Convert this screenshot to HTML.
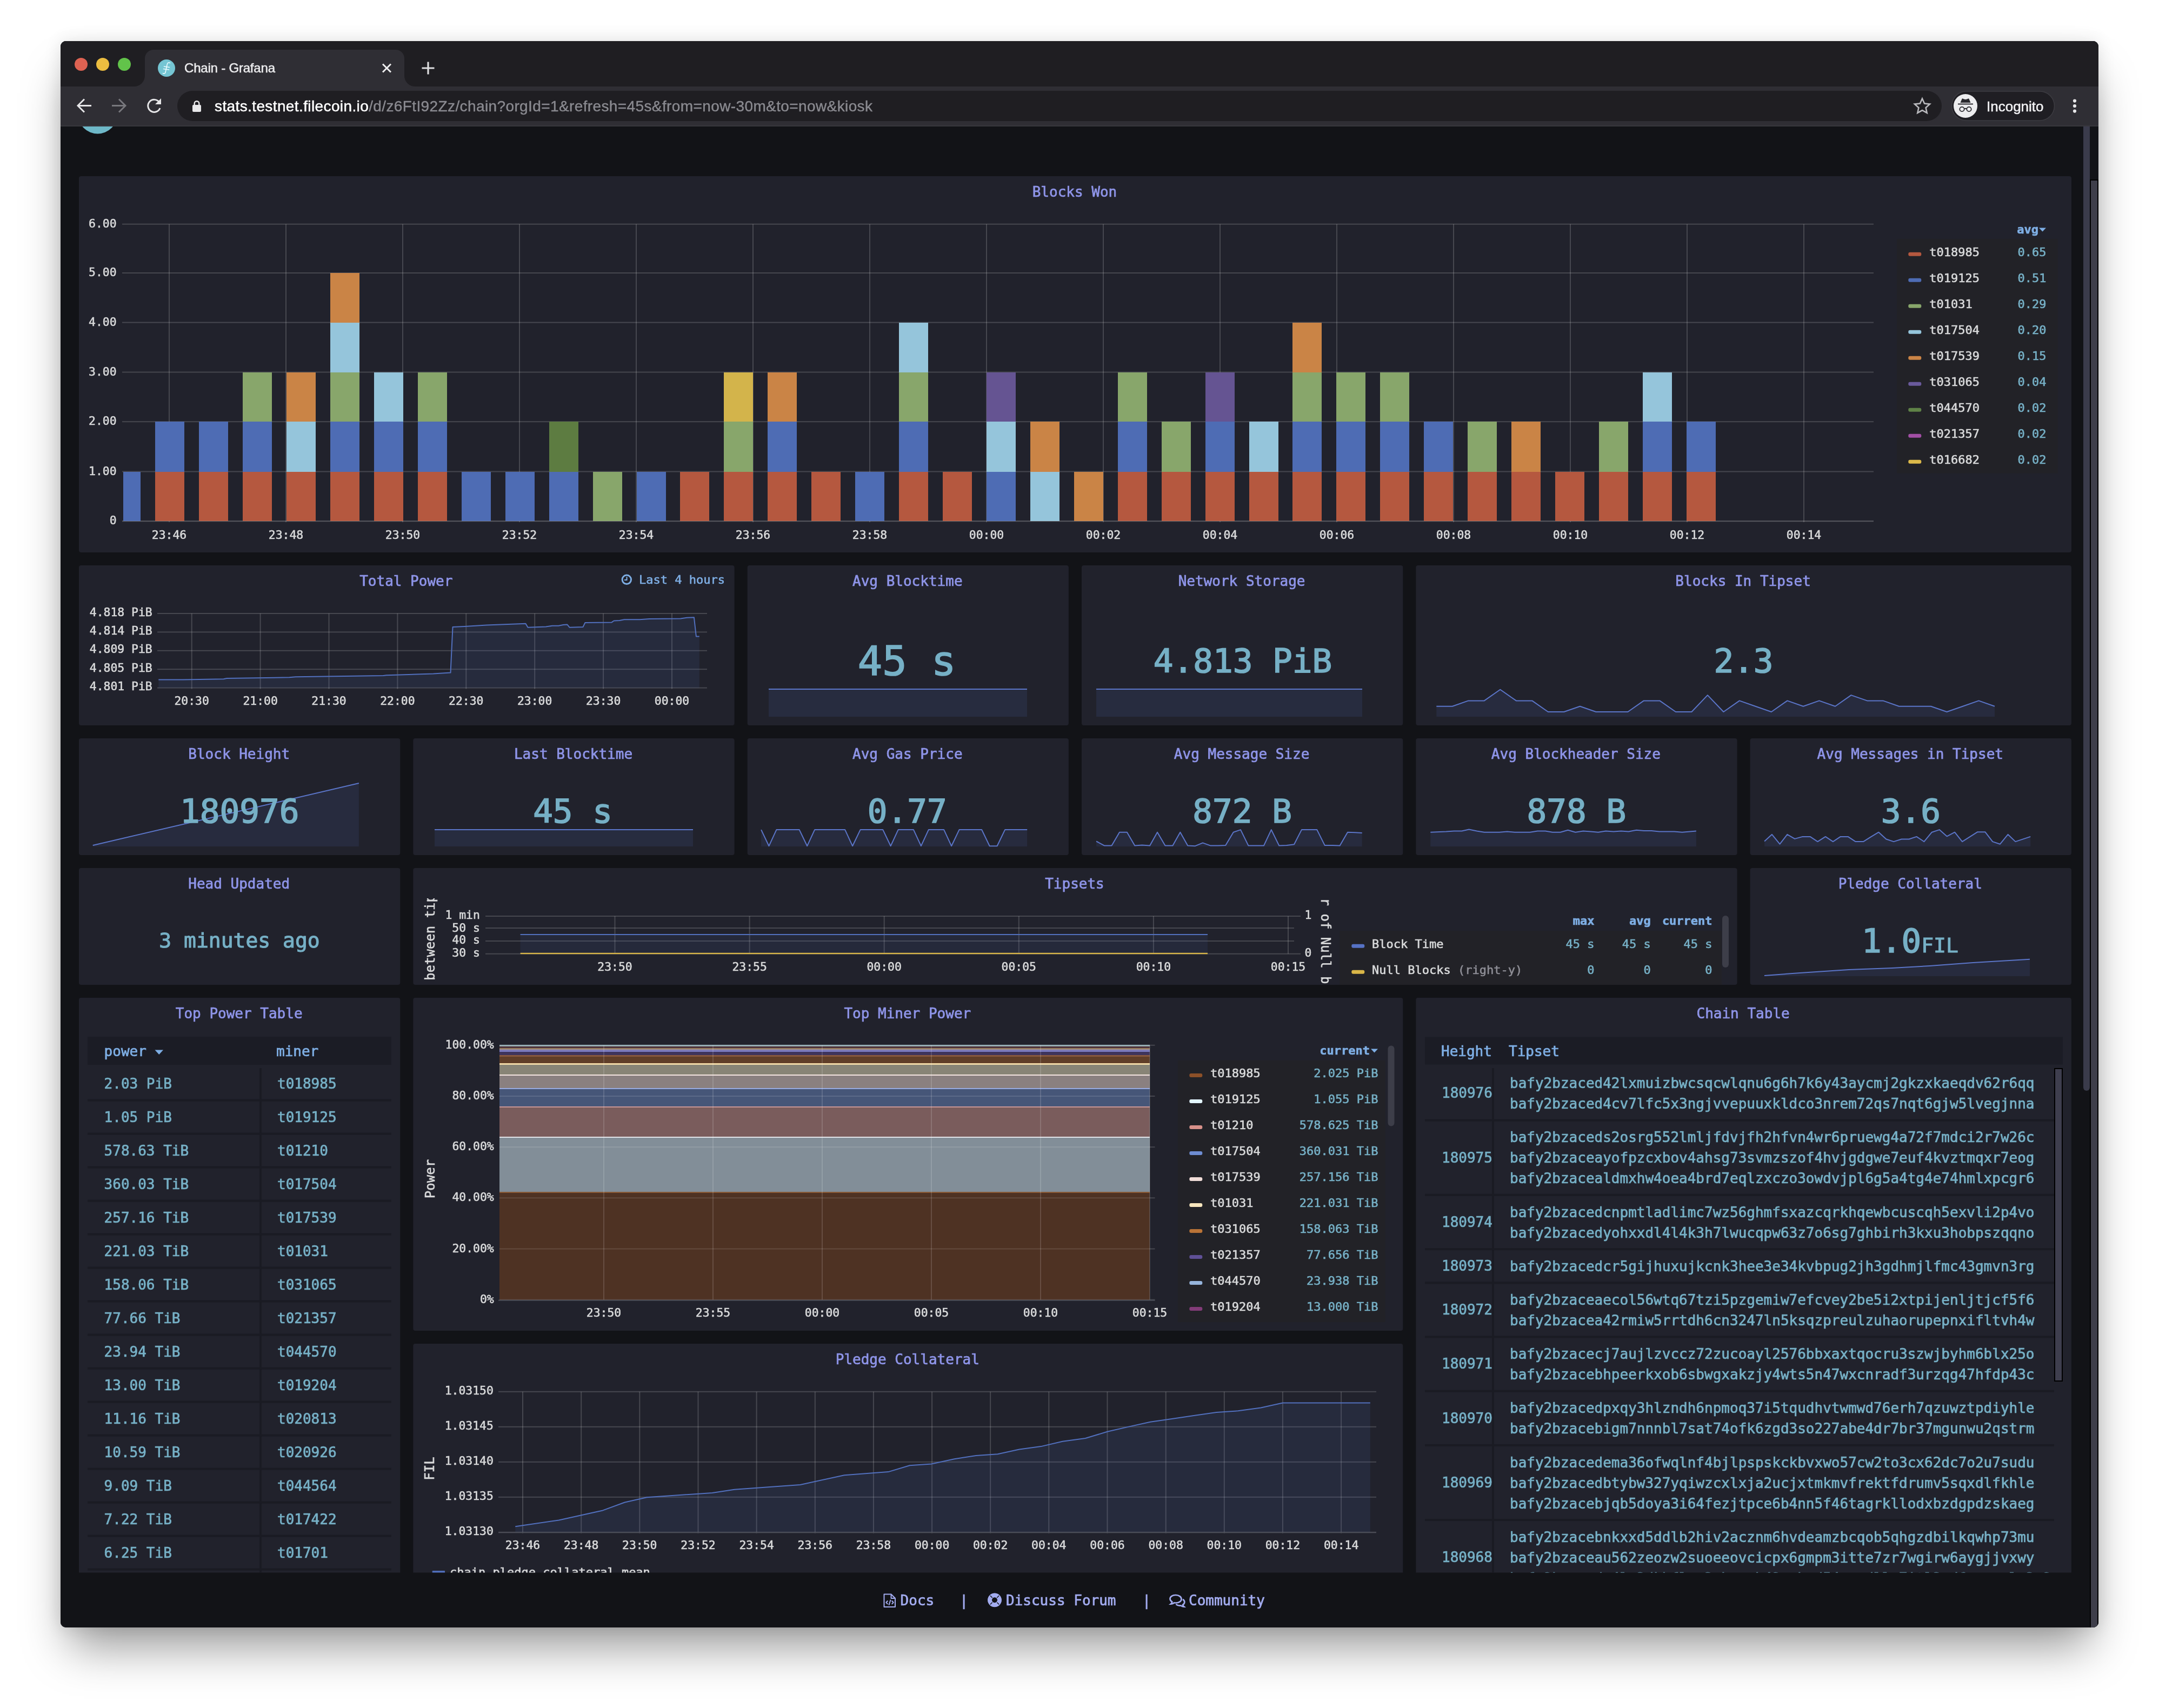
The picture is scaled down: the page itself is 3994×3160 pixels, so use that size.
<!DOCTYPE html><html><head><meta charset="utf-8"><title>Chain - Grafana</title>
<style>html,body{margin:0;padding:0;background:#fff}body{width:3994px;height:3160px;position:relative;overflow:hidden}#sh{position:absolute;left:112px;top:76px;width:3770px;height:2935px;border-radius:10px;background:#121317;box-shadow:0 52px 80px -16px rgba(0,0,0,.4),0 0 32px rgba(0,0,0,.11)}svg{position:absolute;left:0;top:0;will-change:transform}svg text{font-family:'DejaVu Sans Mono','Liberation Mono',monospace;white-space:pre}svg text.s{font-family:'Liberation Sans',sans-serif}</style></head><body>
<div id="sh"></div>
<svg width="3994" height="3160" viewBox="0 0 3994 3160">
<defs><clipPath id="win"><rect x="112" y="76" width="3770" height="2935" rx="10"/></clipPath><clipPath id="dash"><rect x="112" y="233" width="3742" height="2676.5"/></clipPath></defs>
<g clip-path="url(#win)">
<rect x="112.0" y="76.0" width="3770.0" height="2935.0" fill="#121317" />
<g clip-path="url(#dash)">
<circle cx="180.6" cy="211.6" r="36" fill="#6eb8c8"/>
<rect x="146.0" y="326.0" width="3686.0" height="696.0" fill="#21222c" rx="4" />
<text x="1988.0" y="363.7" font-size="26" fill="#8e94e8" stroke="#8e94e8" stroke-width="0.73" text-anchor="middle" >Blocks Won</text>
<rect x="226.0" y="963.2" width="3240.0" height="2" fill="#fff" fill-opacity=".17"/>
<text x="215.6" y="970.2" font-size="21.4" fill="#d8d9da" stroke="#d8d9da" stroke-width="0.60" text-anchor="end" >0</text>
<rect x="226.0" y="871.5" width="3240.0" height="2" fill="#fff" fill-opacity=".17"/>
<text x="215.6" y="878.5" font-size="21.4" fill="#d8d9da" stroke="#d8d9da" stroke-width="0.60" text-anchor="end" >1.00</text>
<rect x="226.0" y="779.2" width="3240.0" height="2" fill="#fff" fill-opacity=".17"/>
<text x="215.6" y="786.2" font-size="21.4" fill="#d8d9da" stroke="#d8d9da" stroke-width="0.60" text-anchor="end" >2.00</text>
<rect x="226.0" y="687.5" width="3240.0" height="2" fill="#fff" fill-opacity=".17"/>
<text x="215.6" y="694.5" font-size="21.4" fill="#d8d9da" stroke="#d8d9da" stroke-width="0.60" text-anchor="end" >3.00</text>
<rect x="226.0" y="595.6" width="3240.0" height="2" fill="#fff" fill-opacity=".17"/>
<text x="215.6" y="602.6" font-size="21.4" fill="#d8d9da" stroke="#d8d9da" stroke-width="0.60" text-anchor="end" >4.00</text>
<rect x="226.0" y="504.0" width="3240.0" height="2" fill="#fff" fill-opacity=".17"/>
<text x="215.6" y="511.0" font-size="21.4" fill="#d8d9da" stroke="#d8d9da" stroke-width="0.60" text-anchor="end" >5.00</text>
<rect x="226.0" y="413.7" width="3240.0" height="2" fill="#fff" fill-opacity=".17"/>
<text x="215.6" y="420.7" font-size="21.4" fill="#d8d9da" stroke="#d8d9da" stroke-width="0.60" text-anchor="end" >6.00</text>
<rect x="312.0" y="414.7" width="2" height="551.5" fill="#fff" fill-opacity=".17"/>
<text x="313.0" y="996.7" font-size="21.4" fill="#d8d9da" stroke="#d8d9da" stroke-width="0.60" text-anchor="middle" >23:46</text>
<rect x="528.0" y="414.7" width="2" height="551.5" fill="#fff" fill-opacity=".17"/>
<text x="529.0" y="996.7" font-size="21.4" fill="#d8d9da" stroke="#d8d9da" stroke-width="0.60" text-anchor="middle" >23:48</text>
<rect x="744.0" y="414.7" width="2" height="551.5" fill="#fff" fill-opacity=".17"/>
<text x="745.0" y="996.7" font-size="21.4" fill="#d8d9da" stroke="#d8d9da" stroke-width="0.60" text-anchor="middle" >23:50</text>
<rect x="960.0" y="414.7" width="2" height="551.5" fill="#fff" fill-opacity=".17"/>
<text x="961.0" y="996.7" font-size="21.4" fill="#d8d9da" stroke="#d8d9da" stroke-width="0.60" text-anchor="middle" >23:52</text>
<rect x="1176.0" y="414.7" width="2" height="551.5" fill="#fff" fill-opacity=".17"/>
<text x="1177.0" y="996.7" font-size="21.4" fill="#d8d9da" stroke="#d8d9da" stroke-width="0.60" text-anchor="middle" >23:54</text>
<rect x="1392.0" y="414.7" width="2" height="551.5" fill="#fff" fill-opacity=".17"/>
<text x="1393.0" y="996.7" font-size="21.4" fill="#d8d9da" stroke="#d8d9da" stroke-width="0.60" text-anchor="middle" >23:56</text>
<rect x="1608.0" y="414.7" width="2" height="551.5" fill="#fff" fill-opacity=".17"/>
<text x="1609.0" y="996.7" font-size="21.4" fill="#d8d9da" stroke="#d8d9da" stroke-width="0.60" text-anchor="middle" >23:58</text>
<rect x="1824.0" y="414.7" width="2" height="551.5" fill="#fff" fill-opacity=".17"/>
<text x="1825.0" y="996.7" font-size="21.4" fill="#d8d9da" stroke="#d8d9da" stroke-width="0.60" text-anchor="middle" >00:00</text>
<rect x="2040.0" y="414.7" width="2" height="551.5" fill="#fff" fill-opacity=".17"/>
<text x="2041.0" y="996.7" font-size="21.4" fill="#d8d9da" stroke="#d8d9da" stroke-width="0.60" text-anchor="middle" >00:02</text>
<rect x="2256.0" y="414.7" width="2" height="551.5" fill="#fff" fill-opacity=".17"/>
<text x="2257.0" y="996.7" font-size="21.4" fill="#d8d9da" stroke="#d8d9da" stroke-width="0.60" text-anchor="middle" >00:04</text>
<rect x="2472.0" y="414.7" width="2" height="551.5" fill="#fff" fill-opacity=".17"/>
<text x="2473.0" y="996.7" font-size="21.4" fill="#d8d9da" stroke="#d8d9da" stroke-width="0.60" text-anchor="middle" >00:06</text>
<rect x="2688.0" y="414.7" width="2" height="551.5" fill="#fff" fill-opacity=".17"/>
<text x="2689.0" y="996.7" font-size="21.4" fill="#d8d9da" stroke="#d8d9da" stroke-width="0.60" text-anchor="middle" >00:08</text>
<rect x="2904.0" y="414.7" width="2" height="551.5" fill="#fff" fill-opacity=".17"/>
<text x="2905.0" y="996.7" font-size="21.4" fill="#d8d9da" stroke="#d8d9da" stroke-width="0.60" text-anchor="middle" >00:10</text>
<rect x="3120.0" y="414.7" width="2" height="551.5" fill="#fff" fill-opacity=".17"/>
<text x="3121.0" y="996.7" font-size="21.4" fill="#d8d9da" stroke="#d8d9da" stroke-width="0.60" text-anchor="middle" >00:12</text>
<rect x="3336.0" y="414.7" width="2" height="551.5" fill="#fff" fill-opacity=".17"/>
<text x="3337.0" y="996.7" font-size="21.4" fill="#d8d9da" stroke="#d8d9da" stroke-width="0.60" text-anchor="middle" >00:14</text>
<g shape-rendering="crispEdges">
<rect x="228.0" y="872.5" width="32.3" height="91.7" fill="#4e6cb4"/>
<rect x="287.2" y="872.5" width="54.0" height="91.7" fill="#b5583f"/>
<rect x="287.2" y="780.2" width="54.0" height="92.3" fill="#4e6cb4"/>
<rect x="368.2" y="872.5" width="54.0" height="91.7" fill="#b5583f"/>
<rect x="368.2" y="780.2" width="54.0" height="92.3" fill="#4e6cb4"/>
<rect x="449.1" y="872.5" width="54.0" height="91.7" fill="#b5583f"/>
<rect x="449.1" y="780.2" width="54.0" height="92.3" fill="#4e6cb4"/>
<rect x="449.1" y="688.5" width="54.0" height="91.7" fill="#88a66b"/>
<rect x="530.0" y="872.5" width="54.0" height="91.7" fill="#b5583f"/>
<rect x="530.0" y="780.2" width="54.0" height="92.3" fill="#95c5db"/>
<rect x="530.0" y="688.5" width="54.0" height="91.7" fill="#ca8446"/>
<rect x="611.0" y="872.5" width="54.0" height="91.7" fill="#b5583f"/>
<rect x="611.0" y="780.2" width="54.0" height="92.3" fill="#4e6cb4"/>
<rect x="611.0" y="688.5" width="54.0" height="91.7" fill="#88a66b"/>
<rect x="611.0" y="596.6" width="54.0" height="91.9" fill="#95c5db"/>
<rect x="611.0" y="505.0" width="54.0" height="91.6" fill="#ca8446"/>
<rect x="691.9" y="872.5" width="54.0" height="91.7" fill="#b5583f"/>
<rect x="691.9" y="780.2" width="54.0" height="92.3" fill="#4e6cb4"/>
<rect x="691.9" y="688.5" width="54.0" height="91.7" fill="#95c5db"/>
<rect x="772.8" y="872.5" width="54.0" height="91.7" fill="#b5583f"/>
<rect x="772.8" y="780.2" width="54.0" height="92.3" fill="#4e6cb4"/>
<rect x="772.8" y="688.5" width="54.0" height="91.7" fill="#88a66b"/>
<rect x="853.7" y="872.5" width="54.0" height="91.7" fill="#4e6cb4"/>
<rect x="934.7" y="872.5" width="54.0" height="91.7" fill="#4e6cb4"/>
<rect x="1015.6" y="872.5" width="54.0" height="91.7" fill="#4e6cb4"/>
<rect x="1015.6" y="780.2" width="54.0" height="92.3" fill="#5d7c41"/>
<rect x="1096.5" y="872.5" width="54.0" height="91.7" fill="#88a66b"/>
<rect x="1177.5" y="872.5" width="54.0" height="91.7" fill="#4e6cb4"/>
<rect x="1258.4" y="872.5" width="54.0" height="91.7" fill="#b5583f"/>
<rect x="1339.3" y="872.5" width="54.0" height="91.7" fill="#b5583f"/>
<rect x="1339.3" y="780.2" width="54.0" height="92.3" fill="#88a66b"/>
<rect x="1339.3" y="688.5" width="54.0" height="91.7" fill="#d3b44b"/>
<rect x="1420.2" y="872.5" width="54.0" height="91.7" fill="#b5583f"/>
<rect x="1420.2" y="780.2" width="54.0" height="92.3" fill="#4e6cb4"/>
<rect x="1420.2" y="688.5" width="54.0" height="91.7" fill="#ca8446"/>
<rect x="1501.2" y="872.5" width="54.0" height="91.7" fill="#b5583f"/>
<rect x="1582.1" y="872.5" width="54.0" height="91.7" fill="#4e6cb4"/>
<rect x="1663.0" y="872.5" width="54.0" height="91.7" fill="#b5583f"/>
<rect x="1663.0" y="780.2" width="54.0" height="92.3" fill="#4e6cb4"/>
<rect x="1663.0" y="688.5" width="54.0" height="91.7" fill="#88a66b"/>
<rect x="1663.0" y="596.6" width="54.0" height="91.9" fill="#95c5db"/>
<rect x="1744.0" y="872.5" width="54.0" height="91.7" fill="#b5583f"/>
<rect x="1824.9" y="872.5" width="54.0" height="91.7" fill="#4e6cb4"/>
<rect x="1824.9" y="780.2" width="54.0" height="92.3" fill="#95c5db"/>
<rect x="1824.9" y="688.5" width="54.0" height="91.7" fill="#655492"/>
<rect x="1905.8" y="872.5" width="54.0" height="91.7" fill="#95c5db"/>
<rect x="1905.8" y="780.2" width="54.0" height="92.3" fill="#ca8446"/>
<rect x="1986.8" y="872.5" width="54.0" height="91.7" fill="#ca8446"/>
<rect x="2067.7" y="872.5" width="54.0" height="91.7" fill="#b5583f"/>
<rect x="2067.7" y="780.2" width="54.0" height="92.3" fill="#4e6cb4"/>
<rect x="2067.7" y="688.5" width="54.0" height="91.7" fill="#88a66b"/>
<rect x="2148.6" y="872.5" width="54.0" height="91.7" fill="#b5583f"/>
<rect x="2148.6" y="780.2" width="54.0" height="92.3" fill="#88a66b"/>
<rect x="2229.6" y="872.5" width="54.0" height="91.7" fill="#b5583f"/>
<rect x="2229.6" y="780.2" width="54.0" height="92.3" fill="#4e6cb4"/>
<rect x="2229.6" y="688.5" width="54.0" height="91.7" fill="#655492"/>
<rect x="2310.5" y="872.5" width="54.0" height="91.7" fill="#b5583f"/>
<rect x="2310.5" y="780.2" width="54.0" height="92.3" fill="#95c5db"/>
<rect x="2391.4" y="872.5" width="54.0" height="91.7" fill="#b5583f"/>
<rect x="2391.4" y="780.2" width="54.0" height="92.3" fill="#4e6cb4"/>
<rect x="2391.4" y="688.5" width="54.0" height="91.7" fill="#88a66b"/>
<rect x="2391.4" y="596.6" width="54.0" height="91.9" fill="#ca8446"/>
<rect x="2472.3" y="872.5" width="54.0" height="91.7" fill="#b5583f"/>
<rect x="2472.3" y="780.2" width="54.0" height="92.3" fill="#4e6cb4"/>
<rect x="2472.3" y="688.5" width="54.0" height="91.7" fill="#88a66b"/>
<rect x="2553.3" y="872.5" width="54.0" height="91.7" fill="#b5583f"/>
<rect x="2553.3" y="780.2" width="54.0" height="92.3" fill="#4e6cb4"/>
<rect x="2553.3" y="688.5" width="54.0" height="91.7" fill="#88a66b"/>
<rect x="2634.2" y="872.5" width="54.0" height="91.7" fill="#b5583f"/>
<rect x="2634.2" y="780.2" width="54.0" height="92.3" fill="#4e6cb4"/>
<rect x="2715.1" y="872.5" width="54.0" height="91.7" fill="#b5583f"/>
<rect x="2715.1" y="780.2" width="54.0" height="92.3" fill="#88a66b"/>
<rect x="2796.1" y="872.5" width="54.0" height="91.7" fill="#b5583f"/>
<rect x="2796.1" y="780.2" width="54.0" height="92.3" fill="#ca8446"/>
<rect x="2877.0" y="872.5" width="54.0" height="91.7" fill="#b5583f"/>
<rect x="2957.9" y="872.5" width="54.0" height="91.7" fill="#b5583f"/>
<rect x="2957.9" y="780.2" width="54.0" height="92.3" fill="#88a66b"/>
<rect x="3038.9" y="872.5" width="54.0" height="91.7" fill="#b5583f"/>
<rect x="3038.9" y="780.2" width="54.0" height="92.3" fill="#4e6cb4"/>
<rect x="3038.9" y="688.5" width="54.0" height="91.7" fill="#95c5db"/>
<rect x="3119.8" y="872.5" width="54.0" height="91.7" fill="#b5583f"/>
<rect x="3119.8" y="780.2" width="54.0" height="92.3" fill="#4e6cb4"/>
</g>
<rect x="226" y="963.2" width="3240" height="2" fill="#fff" fill-opacity=".1"/>
<text x="3771.0" y="432.0" font-size="22" fill="#7eaee4" stroke="#7eaee4" stroke-width="0.62" text-anchor="end" font-weight="bold" >avg</text>
<path d="M3772 421.5 h13 l-6.5 7 z" fill="#7eaee4"/>
<rect x="3509.0" y="442.0" width="298.0" height="434.0" fill="#222227" />
<rect x="3530.3" y="466.8" width="24" height="7" rx="3" fill="#b5583f"/>
<text x="3569.3" y="474.0" font-size="22" fill="#d8d9da" stroke="#d8d9da" stroke-width="0.62" >t018985</text>
<text x="3785.5" y="474.0" font-size="22" fill="#76b0c6" stroke="#76b0c6" stroke-width="0.62" text-anchor="end" >0.65</text>
<rect x="3530.3" y="514.8" width="24" height="7" rx="3" fill="#4e6cb4"/>
<text x="3569.3" y="522.0" font-size="22" fill="#d8d9da" stroke="#d8d9da" stroke-width="0.62" >t019125</text>
<text x="3785.5" y="522.0" font-size="22" fill="#76b0c6" stroke="#76b0c6" stroke-width="0.62" text-anchor="end" >0.51</text>
<rect x="3530.3" y="562.8" width="24" height="7" rx="3" fill="#88a66b"/>
<text x="3569.3" y="570.0" font-size="22" fill="#d8d9da" stroke="#d8d9da" stroke-width="0.62" >t01031</text>
<text x="3785.5" y="570.0" font-size="22" fill="#76b0c6" stroke="#76b0c6" stroke-width="0.62" text-anchor="end" >0.29</text>
<rect x="3530.3" y="610.8" width="24" height="7" rx="3" fill="#95c5db"/>
<text x="3569.3" y="618.0" font-size="22" fill="#d8d9da" stroke="#d8d9da" stroke-width="0.62" >t017504</text>
<text x="3785.5" y="618.0" font-size="22" fill="#76b0c6" stroke="#76b0c6" stroke-width="0.62" text-anchor="end" >0.20</text>
<rect x="3530.3" y="658.8" width="24" height="7" rx="3" fill="#ca8446"/>
<text x="3569.3" y="666.0" font-size="22" fill="#d8d9da" stroke="#d8d9da" stroke-width="0.62" >t017539</text>
<text x="3785.5" y="666.0" font-size="22" fill="#76b0c6" stroke="#76b0c6" stroke-width="0.62" text-anchor="end" >0.15</text>
<rect x="3530.3" y="706.8" width="24" height="7" rx="3" fill="#6a5a9c"/>
<text x="3569.3" y="714.0" font-size="22" fill="#d8d9da" stroke="#d8d9da" stroke-width="0.62" >t031065</text>
<text x="3785.5" y="714.0" font-size="22" fill="#76b0c6" stroke="#76b0c6" stroke-width="0.62" text-anchor="end" >0.04</text>
<rect x="3530.3" y="754.8" width="24" height="7" rx="3" fill="#5f8247"/>
<text x="3569.3" y="762.0" font-size="22" fill="#d8d9da" stroke="#d8d9da" stroke-width="0.62" >t044570</text>
<text x="3785.5" y="762.0" font-size="22" fill="#76b0c6" stroke="#76b0c6" stroke-width="0.62" text-anchor="end" >0.02</text>
<rect x="3530.3" y="802.8" width="24" height="7" rx="3" fill="#a24fa5"/>
<text x="3569.3" y="810.0" font-size="22" fill="#d8d9da" stroke="#d8d9da" stroke-width="0.62" >t021357</text>
<text x="3785.5" y="810.0" font-size="22" fill="#76b0c6" stroke="#76b0c6" stroke-width="0.62" text-anchor="end" >0.02</text>
<rect x="3530.3" y="850.8" width="24" height="7" rx="3" fill="#dcb94a"/>
<text x="3569.3" y="858.0" font-size="22" fill="#d8d9da" stroke="#d8d9da" stroke-width="0.62" >t016682</text>
<text x="3785.5" y="858.0" font-size="22" fill="#76b0c6" stroke="#76b0c6" stroke-width="0.62" text-anchor="end" >0.02</text>
<rect x="146.0" y="1046.0" width="1212.6" height="296.0" fill="#21222c" rx="4" />
<text x="751.3" y="1083.7" font-size="26" fill="#8e94e8" stroke="#8e94e8" stroke-width="0.73" text-anchor="middle" >Total Power</text>
<text x="1341.0" y="1080.0" font-size="22" fill="#7eaee4" stroke="#7eaee4" stroke-width="0.62" text-anchor="end" >Last 4 hours</text>
<g stroke="#7eaee4" fill="none"><circle cx="1159.3" cy="1072.3" r="8.2" stroke-width="3"/><path d="M1159.5 1067.3 V1073 H1155" stroke-width="2"/></g>
<rect x="291.0" y="1134.0" width="1017.0" height="2" fill="#fff" fill-opacity=".17"/>
<text x="281.7" y="1139.5" font-size="21.4" fill="#d8d9da" stroke="#d8d9da" stroke-width="0.60" text-anchor="end" >4.818 PiB</text>
<rect x="291.0" y="1168.4" width="1017.0" height="2" fill="#fff" fill-opacity=".17"/>
<text x="281.7" y="1173.9" font-size="21.4" fill="#d8d9da" stroke="#d8d9da" stroke-width="0.60" text-anchor="end" >4.814 PiB</text>
<rect x="291.0" y="1202.8" width="1017.0" height="2" fill="#fff" fill-opacity=".17"/>
<text x="281.7" y="1208.3" font-size="21.4" fill="#d8d9da" stroke="#d8d9da" stroke-width="0.60" text-anchor="end" >4.809 PiB</text>
<rect x="291.0" y="1237.2" width="1017.0" height="2" fill="#fff" fill-opacity=".17"/>
<text x="281.7" y="1242.7" font-size="21.4" fill="#d8d9da" stroke="#d8d9da" stroke-width="0.60" text-anchor="end" >4.805 PiB</text>
<rect x="291.0" y="1271.6" width="1017.0" height="2" fill="#fff" fill-opacity=".17"/>
<text x="281.7" y="1277.1" font-size="21.4" fill="#d8d9da" stroke="#d8d9da" stroke-width="0.60" text-anchor="end" >4.801 PiB</text>
<rect x="353.7" y="1135.0" width="2" height="139.6" fill="#fff" fill-opacity=".17"/>
<text x="354.7" y="1303.8" font-size="21.4" fill="#d8d9da" stroke="#d8d9da" stroke-width="0.60" text-anchor="middle" >20:30</text>
<rect x="480.6" y="1135.0" width="2" height="139.6" fill="#fff" fill-opacity=".17"/>
<text x="481.6" y="1303.8" font-size="21.4" fill="#d8d9da" stroke="#d8d9da" stroke-width="0.60" text-anchor="middle" >21:00</text>
<rect x="607.5" y="1135.0" width="2" height="139.6" fill="#fff" fill-opacity=".17"/>
<text x="608.5" y="1303.8" font-size="21.4" fill="#d8d9da" stroke="#d8d9da" stroke-width="0.60" text-anchor="middle" >21:30</text>
<rect x="734.4" y="1135.0" width="2" height="139.6" fill="#fff" fill-opacity=".17"/>
<text x="735.4" y="1303.8" font-size="21.4" fill="#d8d9da" stroke="#d8d9da" stroke-width="0.60" text-anchor="middle" >22:00</text>
<rect x="861.3" y="1135.0" width="2" height="139.6" fill="#fff" fill-opacity=".17"/>
<text x="862.3" y="1303.8" font-size="21.4" fill="#d8d9da" stroke="#d8d9da" stroke-width="0.60" text-anchor="middle" >22:30</text>
<rect x="988.2" y="1135.0" width="2" height="139.6" fill="#fff" fill-opacity=".17"/>
<text x="989.2" y="1303.8" font-size="21.4" fill="#d8d9da" stroke="#d8d9da" stroke-width="0.60" text-anchor="middle" >23:00</text>
<rect x="1115.1" y="1135.0" width="2" height="139.6" fill="#fff" fill-opacity=".17"/>
<text x="1116.1" y="1303.8" font-size="21.4" fill="#d8d9da" stroke="#d8d9da" stroke-width="0.60" text-anchor="middle" >23:30</text>
<rect x="1242.0" y="1135.0" width="2" height="139.6" fill="#fff" fill-opacity=".17"/>
<text x="1243.0" y="1303.8" font-size="21.4" fill="#d8d9da" stroke="#d8d9da" stroke-width="0.60" text-anchor="middle" >00:00</text>
<path d="M293.3 1257.4 L338.4 1257.4 L413.7 1256.2 L419.5 1255.1 L535.3 1253.3 L546.9 1252.2 L709.0 1249.9 L714.8 1249.3 L801.6 1246.4 L833.5 1244.6 L837.5 1160.1 L859.5 1159.0 L900.0 1156.6 L972.4 1153.7 L976.5 1160.7 L1010.0 1159.5 L1021.6 1157.8 L1033.2 1157.8 L1041.9 1156.1 L1049.4 1155.5 L1053.5 1160.7 L1078.4 1160.1 L1082.4 1152.0 L1131.6 1151.4 L1135.7 1148.5 L1146.1 1148.0 L1154.8 1146.2 L1183.7 1146.2 L1201.1 1145.1 L1259.0 1144.5 L1270.6 1142.7 L1283.9 1142.2 L1287.9 1177.5 L1293.7 1177.5 L1293.7 1272.6 L293.3 1272.6 Z" fill="#5270be" fill-opacity="0.115"/>
<path d="M293.3 1257.4 L338.4 1257.4 L413.7 1256.2 L419.5 1255.1 L535.3 1253.3 L546.9 1252.2 L709.0 1249.9 L714.8 1249.3 L801.6 1246.4 L833.5 1244.6 L837.5 1160.1 L859.5 1159.0 L900.0 1156.6 L972.4 1153.7 L976.5 1160.7 L1010.0 1159.5 L1021.6 1157.8 L1033.2 1157.8 L1041.9 1156.1 L1049.4 1155.5 L1053.5 1160.7 L1078.4 1160.1 L1082.4 1152.0 L1131.6 1151.4 L1135.7 1148.5 L1146.1 1148.0 L1154.8 1146.2 L1183.7 1146.2 L1201.1 1145.1 L1259.0 1144.5 L1270.6 1142.7 L1283.9 1142.2 L1287.9 1177.5 L1293.7 1177.5" fill="none" stroke="#5270be" stroke-width="2" stroke-linejoin="round"/>
<rect x="1382.6" y="1046.0" width="594.3" height="296.0" fill="#21222c" rx="4" />
<text x="1678.8" y="1083.7" font-size="26" fill="#8e94e8" stroke="#8e94e8" stroke-width="0.73" text-anchor="middle" >Avg Blocktime</text>
<rect x="1422.0" y="1275.0" width="478.0" height="51.0" fill="#5b75c8" fill-opacity=".125"/>
<rect x="1422.0" y="1274.0" width="478.0" height="2" fill="#5b75c8"/>
<text x="1677.6" y="1249.0" font-size="75.5" fill="#76b0c6" stroke="#76b0c6" stroke-width="1.70" text-anchor="middle" >45 s</text>
<rect x="2001.0" y="1046.0" width="594.3" height="296.0" fill="#21222c" rx="4" />
<text x="2297.1" y="1083.7" font-size="26" fill="#8e94e8" stroke="#8e94e8" stroke-width="0.73" text-anchor="middle" >Network Storage</text>
<rect x="2028.0" y="1275.0" width="492.0" height="51.0" fill="#5b75c8" fill-opacity=".125"/>
<rect x="2028.0" y="1274.0" width="492.0" height="2" fill="#5b75c8"/>
<text x="2299.0" y="1243.5" font-size="61" fill="#76b0c6" stroke="#76b0c6" stroke-width="1.70" text-anchor="middle" >4.813 PiB</text>
<rect x="2619.3" y="1046.0" width="1212.6" height="296.0" fill="#21222c" rx="4" />
<text x="3224.6" y="1083.7" font-size="26" fill="#8e94e8" stroke="#8e94e8" stroke-width="0.73" text-anchor="middle" >Blocks In Tipset</text>
<path d="M2657.3 1306.7 L2686.8 1306.7 L2716.3 1296.4 L2745.8 1296.4 L2775.3 1275.8 L2804.8 1296.4 L2834.3 1296.4 L2863.8 1317.0 L2893.3 1317.0 L2922.9 1306.7 L2952.4 1317.0 L2981.9 1317.0 L3011.4 1317.0 L3040.9 1296.4 L3070.4 1296.4 L3099.9 1317.0 L3129.4 1317.0 L3158.9 1286.1 L3188.4 1317.0 L3217.9 1296.4 L3247.4 1306.7 L3276.9 1317.0 L3306.4 1296.4 L3335.9 1306.7 L3365.4 1296.4 L3395.0 1306.7 L3424.5 1286.1 L3454.0 1296.4 L3483.5 1296.4 L3513.0 1306.7 L3542.5 1306.7 L3572.0 1306.7 L3601.5 1317.0 L3631.0 1306.7 L3660.5 1296.4 L3690.0 1306.7 L3690.0 1326.0 L2657.3 1326.0 Z" fill="#5b75c8" fill-opacity="0.115"/>
<path d="M2657.3 1306.7 L2686.8 1306.7 L2716.3 1296.4 L2745.8 1296.4 L2775.3 1275.8 L2804.8 1296.4 L2834.3 1296.4 L2863.8 1317.0 L2893.3 1317.0 L2922.9 1306.7 L2952.4 1317.0 L2981.9 1317.0 L3011.4 1317.0 L3040.9 1296.4 L3070.4 1296.4 L3099.9 1317.0 L3129.4 1317.0 L3158.9 1286.1 L3188.4 1317.0 L3217.9 1296.4 L3247.4 1306.7 L3276.9 1317.0 L3306.4 1296.4 L3335.9 1306.7 L3365.4 1296.4 L3395.0 1306.7 L3424.5 1286.1 L3454.0 1296.4 L3483.5 1296.4 L3513.0 1306.7 L3542.5 1306.7 L3572.0 1306.7 L3601.5 1317.0 L3631.0 1306.7 L3660.5 1296.4 L3690.0 1306.7" fill="none" stroke="#5b75c8" stroke-width="2" stroke-linejoin="round"/>
<text x="3225.5" y="1243.5" font-size="61" fill="#76b0c6" stroke="#76b0c6" stroke-width="1.70" text-anchor="middle" >2.3</text>
<rect x="146.0" y="1366.0" width="594.3" height="216.0" fill="#21222c" rx="4" />
<text x="442.2" y="1403.7" font-size="26" fill="#8e94e8" stroke="#8e94e8" stroke-width="0.73" text-anchor="middle" >Block Height</text>
<path d="M171.7 1564.0 L663.9 1449.0 L663.9 1566.0 L171.7 1566.0 Z" fill="#5b75c8" fill-opacity="0.115"/>
<path d="M171.7 1564.0 L663.9 1449.0" fill="none" stroke="#5b75c8" stroke-width="2" stroke-linejoin="round"/>
<text x="443.2" y="1521.7" font-size="61" fill="#76b0c6" stroke="#76b0c6" stroke-width="1.70" text-anchor="middle" >180976</text>
<rect x="764.3" y="1366.0" width="594.3" height="216.0" fill="#21222c" rx="4" />
<text x="1060.5" y="1403.7" font-size="26" fill="#8e94e8" stroke="#8e94e8" stroke-width="0.73" text-anchor="middle" >Last Blocktime</text>
<rect x="804.0" y="1535.0" width="478.0" height="31.0" fill="#5b75c8" fill-opacity=".125"/>
<rect x="804.0" y="1534.0" width="478.0" height="2" fill="#5b75c8"/>
<text x="1059.6" y="1521.7" font-size="61" fill="#76b0c6" stroke="#76b0c6" stroke-width="1.70" text-anchor="middle" >45 s</text>
<rect x="1382.6" y="1366.0" width="594.3" height="216.0" fill="#21222c" rx="4" />
<text x="1678.8" y="1403.7" font-size="26" fill="#8e94e8" stroke="#8e94e8" stroke-width="0.73" text-anchor="middle" >Avg Gas Price</text>
<path d="M1408.1 1535.1 L1422.5 1565.2 L1436.4 1535.1 L1478.7 1535.1 L1493.2 1565.2 L1507.1 1535.1 L1563.2 1535.1 L1577.1 1565.2 L1591.6 1535.1 L1633.3 1535.1 L1647.7 1565.2 L1661.6 1535.1 L1690.0 1535.1 L1703.9 1565.2 L1717.8 1535.1 L1746.2 1535.1 L1760.1 1565.2 L1774.5 1535.1 L1816.2 1535.1 L1830.7 1565.2 L1844.6 1565.2 L1859.1 1535.1 L1900.2 1535.1 L1900.2 1566.0 L1408.1 1566.0 Z" fill="#5b75c8" fill-opacity="0.115"/>
<path d="M1408.1 1535.1 L1422.5 1565.2 L1436.4 1535.1 L1478.7 1535.1 L1493.2 1565.2 L1507.1 1535.1 L1563.2 1535.1 L1577.1 1565.2 L1591.6 1535.1 L1633.3 1535.1 L1647.7 1565.2 L1661.6 1535.1 L1690.0 1535.1 L1703.9 1565.2 L1717.8 1535.1 L1746.2 1535.1 L1760.1 1565.2 L1774.5 1535.1 L1816.2 1535.1 L1830.7 1565.2 L1844.6 1565.2 L1859.1 1535.1 L1900.2 1535.1" fill="none" stroke="#5b75c8" stroke-width="2" stroke-linejoin="round"/>
<text x="1678.3" y="1521.7" font-size="61" fill="#76b0c6" stroke="#76b0c6" stroke-width="1.70" text-anchor="middle" >0.77</text>
<rect x="2001.0" y="1366.0" width="594.3" height="216.0" fill="#21222c" rx="4" />
<text x="2297.1" y="1403.7" font-size="26" fill="#8e94e8" stroke="#8e94e8" stroke-width="0.73" text-anchor="middle" >Avg Message Size</text>
<path d="M2028.1 1556.5 L2043.2 1564.6 L2056.5 1564.6 L2071.0 1539.7 L2084.9 1539.7 L2099.3 1564.6 L2112.7 1563.5 L2127.1 1564.6 L2141.0 1539.7 L2155.5 1564.6 L2169.4 1564.6 L2183.3 1539.7 L2197.2 1564.6 L2211.1 1565.2 L2225.0 1559.4 L2239.5 1564.6 L2253.4 1564.6 L2267.2 1564.1 L2281.7 1539.7 L2295.0 1535.1 L2309.5 1564.6 L2324.0 1564.6 L2337.9 1564.6 L2351.8 1535.1 L2366.3 1564.6 L2380.1 1564.1 L2394.0 1562.3 L2407.9 1535.1 L2422.4 1535.1 L2436.3 1535.1 L2450.8 1564.1 L2464.7 1564.1 L2478.6 1564.6 L2493.0 1539.7 L2506.9 1540.3 L2519.7 1540.9 L2519.7 1566.0 L2028.1 1566.0 Z" fill="#5b75c8" fill-opacity="0.115"/>
<path d="M2028.1 1556.5 L2043.2 1564.6 L2056.5 1564.6 L2071.0 1539.7 L2084.9 1539.7 L2099.3 1564.6 L2112.7 1563.5 L2127.1 1564.6 L2141.0 1539.7 L2155.5 1564.6 L2169.4 1564.6 L2183.3 1539.7 L2197.2 1564.6 L2211.1 1565.2 L2225.0 1559.4 L2239.5 1564.6 L2253.4 1564.6 L2267.2 1564.1 L2281.7 1539.7 L2295.0 1535.1 L2309.5 1564.6 L2324.0 1564.6 L2337.9 1564.6 L2351.8 1535.1 L2366.3 1564.6 L2380.1 1564.1 L2394.0 1562.3 L2407.9 1535.1 L2422.4 1535.1 L2436.3 1535.1 L2450.8 1564.1 L2464.7 1564.1 L2478.6 1564.6 L2493.0 1539.7 L2506.9 1540.3 L2519.7 1540.9" fill="none" stroke="#5b75c8" stroke-width="2" stroke-linejoin="round"/>
<text x="2298.1" y="1521.7" font-size="61" fill="#76b0c6" stroke="#76b0c6" stroke-width="1.70" text-anchor="middle" >872 B</text>
<rect x="2619.3" y="1366.0" width="594.3" height="216.0" fill="#21222c" rx="4" />
<text x="2915.4" y="1403.7" font-size="26" fill="#8e94e8" stroke="#8e94e8" stroke-width="0.73" text-anchor="middle" >Avg Blockheader Size</text>
<path d="M2646.3 1539.7 L2675.3 1538.6 L2689.7 1537.4 L2704.2 1537.4 L2717.5 1534.5 L2732.0 1537.4 L2745.9 1539.7 L2773.7 1539.7 L2788.2 1538.6 L2802.1 1539.7 L2830.4 1539.7 L2844.3 1537.4 L2858.8 1537.4 L2872.1 1539.7 L2886.6 1539.7 L2900.5 1535.7 L2914.4 1539.7 L2928.9 1537.4 L2942.8 1538.6 L2956.6 1539.7 L2970.5 1537.4 L2985.0 1538.6 L2998.9 1537.4 L3012.8 1538.6 L3027.3 1535.7 L3041.2 1536.9 L3055.1 1536.9 L3069.5 1538.6 L3097.3 1538.6 L3111.8 1539.7 L3137.9 1537.4 L3137.9 1566.0 L2646.3 1566.0 Z" fill="#5b75c8" fill-opacity="0.115"/>
<path d="M2646.3 1539.7 L2675.3 1538.6 L2689.7 1537.4 L2704.2 1537.4 L2717.5 1534.5 L2732.0 1537.4 L2745.9 1539.7 L2773.7 1539.7 L2788.2 1538.6 L2802.1 1539.7 L2830.4 1539.7 L2844.3 1537.4 L2858.8 1537.4 L2872.1 1539.7 L2886.6 1539.7 L2900.5 1535.7 L2914.4 1539.7 L2928.9 1537.4 L2942.8 1538.6 L2956.6 1539.7 L2970.5 1537.4 L2985.0 1538.6 L2998.9 1537.4 L3012.8 1538.6 L3027.3 1535.7 L3041.2 1536.9 L3055.1 1536.9 L3069.5 1538.6 L3097.3 1538.6 L3111.8 1539.7 L3137.9 1537.4" fill="none" stroke="#5b75c8" stroke-width="2" stroke-linejoin="round"/>
<text x="2916.4" y="1521.7" font-size="61" fill="#76b0c6" stroke="#76b0c6" stroke-width="1.70" text-anchor="middle" >878 B</text>
<rect x="3237.6" y="1366.0" width="594.3" height="216.0" fill="#21222c" rx="4" />
<text x="3533.8" y="1403.7" font-size="26" fill="#8e94e8" stroke="#8e94e8" stroke-width="0.73" text-anchor="middle" >Avg Messages in Tipset</text>
<path d="M3264.1 1556.5 L3278.0 1543.8 L3292.5 1561.7 L3306.3 1543.8 L3320.2 1551.9 L3334.7 1547.9 L3348.6 1547.9 L3362.5 1557.1 L3377.0 1547.9 L3390.9 1557.1 L3404.8 1547.9 L3418.7 1547.9 L3432.6 1557.1 L3447.0 1557.1 L3460.9 1548.4 L3475.4 1539.7 L3489.3 1552.5 L3503.2 1557.1 L3517.7 1552.5 L3531.6 1552.5 L3545.5 1547.9 L3559.4 1557.1 L3573.8 1539.7 L3587.7 1535.1 L3601.6 1547.3 L3616.1 1539.7 L3630.0 1557.1 L3658.4 1539.2 L3672.3 1539.2 L3686.2 1557.1 L3700.0 1561.7 L3714.5 1543.8 L3728.4 1557.1 L3756.2 1547.9 L3756.2 1566.0 L3264.1 1566.0 Z" fill="#5b75c8" fill-opacity="0.115"/>
<path d="M3264.1 1556.5 L3278.0 1543.8 L3292.5 1561.7 L3306.3 1543.8 L3320.2 1551.9 L3334.7 1547.9 L3348.6 1547.9 L3362.5 1557.1 L3377.0 1547.9 L3390.9 1557.1 L3404.8 1547.9 L3418.7 1547.9 L3432.6 1557.1 L3447.0 1557.1 L3460.9 1548.4 L3475.4 1539.7 L3489.3 1552.5 L3503.2 1557.1 L3517.7 1552.5 L3531.6 1552.5 L3545.5 1547.9 L3559.4 1557.1 L3573.8 1539.7 L3587.7 1535.1 L3601.6 1547.3 L3616.1 1539.7 L3630.0 1557.1 L3658.4 1539.2 L3672.3 1539.2 L3686.2 1557.1 L3700.0 1561.7 L3714.5 1543.8 L3728.4 1557.1 L3756.2 1547.9" fill="none" stroke="#5b75c8" stroke-width="2" stroke-linejoin="round"/>
<text x="3534.8" y="1521.7" font-size="61" fill="#76b0c6" stroke="#76b0c6" stroke-width="1.70" text-anchor="middle" >3.6</text>
<rect x="146.0" y="1606.0" width="594.3" height="216.0" fill="#21222c" rx="4" />
<text x="442.2" y="1643.7" font-size="26" fill="#8e94e8" stroke="#8e94e8" stroke-width="0.73" text-anchor="middle" >Head Updated</text>
<text x="443.0" y="1753.2" font-size="38" fill="#76b0c6" stroke="#76b0c6" stroke-width="1.06" text-anchor="middle" >3 minutes ago</text>
<rect x="764.3" y="1606.0" width="2449.3" height="216.0" fill="#21222c" rx="4" />
<text x="1988.0" y="1643.7" font-size="26" fill="#8e94e8" stroke="#8e94e8" stroke-width="0.73" text-anchor="middle" >Tipsets</text>
<clipPath id="cpt"><rect x="764.32" y="1662" width="2449.28" height="159"/></clipPath>
<g clip-path="url(#cpt)"><text transform="translate(804,1741.7) rotate(-90)" font-size="24" fill="#d8d9da" stroke="#d8d9da" stroke-width=".6" text-anchor="middle">Time between tipsets</text>
<text transform="translate(2444,1741) rotate(90)" font-size="24" fill="#d8d9da" stroke="#d8d9da" stroke-width=".6" text-anchor="middle">Number of Null blocks</text></g>
<rect x="898.0" y="1694.0" width="1496.0" height="2" fill="#fff" fill-opacity=".17"/>
<text x="887.8" y="1699.5" font-size="21.4" fill="#d8d9da" stroke="#d8d9da" stroke-width="0.60" text-anchor="end" >1 min</text>
<rect x="898.0" y="1716.0" width="1496.0" height="2" fill="#fff" fill-opacity=".17"/>
<text x="887.8" y="1724.0" font-size="21.4" fill="#d8d9da" stroke="#d8d9da" stroke-width="0.60" text-anchor="end" >50 s</text>
<rect x="898.0" y="1740.0" width="1496.0" height="2" fill="#fff" fill-opacity=".17"/>
<text x="887.8" y="1746.0" font-size="21.4" fill="#d8d9da" stroke="#d8d9da" stroke-width="0.60" text-anchor="end" >40 s</text>
<rect x="898.0" y="1763.7" width="1496.0" height="2" fill="#fff" fill-opacity=".17"/>
<text x="887.8" y="1770.4" font-size="21.4" fill="#d8d9da" stroke="#d8d9da" stroke-width="0.60" text-anchor="end" >30 s</text>
<rect x="1136.5" y="1695.0" width="2" height="69.7" fill="#fff" fill-opacity=".17"/>
<text x="1137.5" y="1796.4" font-size="21.4" fill="#d8d9da" stroke="#d8d9da" stroke-width="0.60" text-anchor="middle" >23:50</text>
<rect x="1385.6" y="1695.0" width="2" height="69.7" fill="#fff" fill-opacity=".17"/>
<text x="1386.6" y="1796.4" font-size="21.4" fill="#d8d9da" stroke="#d8d9da" stroke-width="0.60" text-anchor="middle" >23:55</text>
<rect x="1634.7" y="1695.0" width="2" height="69.7" fill="#fff" fill-opacity=".17"/>
<text x="1635.7" y="1796.4" font-size="21.4" fill="#d8d9da" stroke="#d8d9da" stroke-width="0.60" text-anchor="middle" >00:00</text>
<rect x="1883.8" y="1695.0" width="2" height="69.7" fill="#fff" fill-opacity=".17"/>
<text x="1884.8" y="1796.4" font-size="21.4" fill="#d8d9da" stroke="#d8d9da" stroke-width="0.60" text-anchor="middle" >00:05</text>
<rect x="2132.9" y="1695.0" width="2" height="69.7" fill="#fff" fill-opacity=".17"/>
<text x="2133.9" y="1796.4" font-size="21.4" fill="#d8d9da" stroke="#d8d9da" stroke-width="0.60" text-anchor="middle" >00:10</text>
<rect x="2382.0" y="1695.0" width="2" height="69.7" fill="#fff" fill-opacity=".17"/>
<text x="2383.0" y="1796.4" font-size="21.4" fill="#d8d9da" stroke="#d8d9da" stroke-width="0.60" text-anchor="middle" >00:15</text>
<rect x="2394.0" y="1694.0" width="12.0" height="2" fill="#fff" fill-opacity=".17"/>
<rect x="2394.0" y="1763.7" width="12.0" height="2" fill="#fff" fill-opacity=".17"/>
<text x="2420.0" y="1699.7" font-size="21.4" fill="#d8d9da" stroke="#d8d9da" stroke-width="0.60" text-anchor="middle" >1</text>
<text x="2420.0" y="1770.0" font-size="21.4" fill="#d8d9da" stroke="#d8d9da" stroke-width="0.60" text-anchor="middle" >0</text>
<rect x="962.6" y="1729.0" width="1271.4" height="35.0" fill="#5270be" fill-opacity=".1"/>
<rect x="962.6" y="1728.0" width="1271.4" height="2" fill="#5270be"/>
<rect x="962.6" y="1762.8" width="1271.4" height="2.4" fill="#d9b648"/>
<rect x="2478.0" y="1722.0" width="707.0" height="100.0" fill="#222227" />
<text x="2949.5" y="1710.5" font-size="22" fill="#7eaee4" stroke="#7eaee4" stroke-width="0.62" text-anchor="end" font-weight="bold" >max</text>
<text x="3053.8" y="1710.5" font-size="22" fill="#7eaee4" stroke="#7eaee4" stroke-width="0.62" text-anchor="end" font-weight="bold" >avg</text>
<text x="3167.6" y="1710.5" font-size="22" fill="#7eaee4" stroke="#7eaee4" stroke-width="0.62" text-anchor="end" font-weight="bold" >current</text>
<rect x="2500.3" y="1746.8" width="24" height="7" rx="3" fill="#5672c4"/>
<text x="2538.0" y="1754.0" font-size="22" fill="#d8d9da" stroke="#d8d9da" stroke-width="0.62" >Block Time</text>
<rect x="2500.3" y="1794.8" width="24" height="7" rx="3" fill="#d9b648"/>
<text x="2538" y="1802" font-size="22" fill="#d8d9da" stroke="#d8d9da" stroke-width=".6">Null Blocks <tspan fill="#8e8e96" stroke="#8e8e96">(right-y)</tspan></text>
<text x="2949.5" y="1754.0" font-size="22" fill="#76b0c6" stroke="#76b0c6" stroke-width="0.62" text-anchor="end" >45 s</text>
<text x="2949.5" y="1802.0" font-size="22" fill="#76b0c6" stroke="#76b0c6" stroke-width="0.62" text-anchor="end" >0</text>
<text x="3053.8" y="1754.0" font-size="22" fill="#76b0c6" stroke="#76b0c6" stroke-width="0.62" text-anchor="end" >45 s</text>
<text x="3053.8" y="1802.0" font-size="22" fill="#76b0c6" stroke="#76b0c6" stroke-width="0.62" text-anchor="end" >0</text>
<text x="3167.6" y="1754.0" font-size="22" fill="#76b0c6" stroke="#76b0c6" stroke-width="0.62" text-anchor="end" >45 s</text>
<text x="3167.6" y="1802.0" font-size="22" fill="#76b0c6" stroke="#76b0c6" stroke-width="0.62" text-anchor="end" >0</text>
<rect x="3186.0" y="1694.0" width="12.0" height="96.0" fill="#3d3e49" rx="6" />
<rect x="3237.6" y="1606.0" width="594.3" height="216.0" fill="#21222c" rx="4" />
<text x="3533.8" y="1643.7" font-size="26" fill="#8e94e8" stroke="#8e94e8" stroke-width="0.73" text-anchor="middle" >Pledge Collateral</text>
<path d="M3264.0 1805.0 L3330.0 1800.0 L3420.0 1794.0 L3500.0 1791.0 L3570.0 1787.0 L3650.0 1781.0 L3755.0 1774.8 L3755.0 1806.0 L3264.0 1806.0 Z" fill="#5b75c8" fill-opacity="0.115"/>
<path d="M3264.0 1805.0 L3330.0 1800.0 L3420.0 1794.0 L3500.0 1791.0 L3570.0 1787.0 L3650.0 1781.0 L3755.0 1774.8" fill="none" stroke="#5b75c8" stroke-width="2" stroke-linejoin="round"/>
<text x="3444" y="1761.5" font-size="61" fill="#76b0c6" stroke="#76b0c6" stroke-width="1.6">1.0<!-- --><tspan font-size="38" stroke-width="1">FIL</tspan></text>
<rect x="146.0" y="1846.0" width="594.3" height="1200.0" fill="#21222c" rx="4" />
<text x="442.2" y="1883.7" font-size="26" fill="#8e94e8" stroke="#8e94e8" stroke-width="0.73" text-anchor="middle" >Top Power Table</text>
<rect x="162.0" y="1918.0" width="562.0" height="52.0" fill="#1b1c25" />
<text x="192.6" y="1954.2" font-size="26" fill="#7eaee4" stroke="#7eaee4" stroke-width="0.73" >power</text>
<path d="M286.5 1942.5 h15.5 l-7.75 8.5 z" fill="#7eaee4"/>
<text x="511.0" y="1954.2" font-size="26" fill="#7eaee4" stroke="#7eaee4" stroke-width="0.73" >miner</text>
<rect x="480.0" y="1976.0" width="4" height="1024.0" fill="#1a1b23"/>
<rect x="162.0" y="2033.6" width="562.0" height="4" fill="#1a1b23"/>
<text x="192.6" y="2014.1" font-size="26" fill="#76b0c6" stroke="#76b0c6" stroke-width="0.73" >2.03 PiB</text>
<text x="513.0" y="2014.1" font-size="26" fill="#76b0c6" stroke="#76b0c6" stroke-width="0.73" >t018985</text>
<rect x="162.0" y="2095.6" width="562.0" height="4" fill="#1a1b23"/>
<text x="192.6" y="2076.1" font-size="26" fill="#76b0c6" stroke="#76b0c6" stroke-width="0.73" >1.05 PiB</text>
<text x="513.0" y="2076.1" font-size="26" fill="#76b0c6" stroke="#76b0c6" stroke-width="0.73" >t019125</text>
<rect x="162.0" y="2157.6" width="562.0" height="4" fill="#1a1b23"/>
<text x="192.6" y="2138.1" font-size="26" fill="#76b0c6" stroke="#76b0c6" stroke-width="0.73" >578.63 TiB</text>
<text x="513.0" y="2138.1" font-size="26" fill="#76b0c6" stroke="#76b0c6" stroke-width="0.73" >t01210</text>
<rect x="162.0" y="2219.6" width="562.0" height="4" fill="#1a1b23"/>
<text x="192.6" y="2200.1" font-size="26" fill="#76b0c6" stroke="#76b0c6" stroke-width="0.73" >360.03 TiB</text>
<text x="513.0" y="2200.1" font-size="26" fill="#76b0c6" stroke="#76b0c6" stroke-width="0.73" >t017504</text>
<rect x="162.0" y="2281.6" width="562.0" height="4" fill="#1a1b23"/>
<text x="192.6" y="2262.1" font-size="26" fill="#76b0c6" stroke="#76b0c6" stroke-width="0.73" >257.16 TiB</text>
<text x="513.0" y="2262.1" font-size="26" fill="#76b0c6" stroke="#76b0c6" stroke-width="0.73" >t017539</text>
<rect x="162.0" y="2343.6" width="562.0" height="4" fill="#1a1b23"/>
<text x="192.6" y="2324.1" font-size="26" fill="#76b0c6" stroke="#76b0c6" stroke-width="0.73" >221.03 TiB</text>
<text x="513.0" y="2324.1" font-size="26" fill="#76b0c6" stroke="#76b0c6" stroke-width="0.73" >t01031</text>
<rect x="162.0" y="2405.6" width="562.0" height="4" fill="#1a1b23"/>
<text x="192.6" y="2386.1" font-size="26" fill="#76b0c6" stroke="#76b0c6" stroke-width="0.73" >158.06 TiB</text>
<text x="513.0" y="2386.1" font-size="26" fill="#76b0c6" stroke="#76b0c6" stroke-width="0.73" >t031065</text>
<rect x="162.0" y="2467.6" width="562.0" height="4" fill="#1a1b23"/>
<text x="192.6" y="2448.1" font-size="26" fill="#76b0c6" stroke="#76b0c6" stroke-width="0.73" >77.66 TiB</text>
<text x="513.0" y="2448.1" font-size="26" fill="#76b0c6" stroke="#76b0c6" stroke-width="0.73" >t021357</text>
<rect x="162.0" y="2529.6" width="562.0" height="4" fill="#1a1b23"/>
<text x="192.6" y="2510.1" font-size="26" fill="#76b0c6" stroke="#76b0c6" stroke-width="0.73" >23.94 TiB</text>
<text x="513.0" y="2510.1" font-size="26" fill="#76b0c6" stroke="#76b0c6" stroke-width="0.73" >t044570</text>
<rect x="162.0" y="2591.6" width="562.0" height="4" fill="#1a1b23"/>
<text x="192.6" y="2572.1" font-size="26" fill="#76b0c6" stroke="#76b0c6" stroke-width="0.73" >13.00 TiB</text>
<text x="513.0" y="2572.1" font-size="26" fill="#76b0c6" stroke="#76b0c6" stroke-width="0.73" >t019204</text>
<rect x="162.0" y="2653.6" width="562.0" height="4" fill="#1a1b23"/>
<text x="192.6" y="2634.1" font-size="26" fill="#76b0c6" stroke="#76b0c6" stroke-width="0.73" >11.16 TiB</text>
<text x="513.0" y="2634.1" font-size="26" fill="#76b0c6" stroke="#76b0c6" stroke-width="0.73" >t020813</text>
<rect x="162.0" y="2715.6" width="562.0" height="4" fill="#1a1b23"/>
<text x="192.6" y="2696.1" font-size="26" fill="#76b0c6" stroke="#76b0c6" stroke-width="0.73" >10.59 TiB</text>
<text x="513.0" y="2696.1" font-size="26" fill="#76b0c6" stroke="#76b0c6" stroke-width="0.73" >t020926</text>
<rect x="162.0" y="2777.6" width="562.0" height="4" fill="#1a1b23"/>
<text x="192.6" y="2758.1" font-size="26" fill="#76b0c6" stroke="#76b0c6" stroke-width="0.73" >9.09 TiB</text>
<text x="513.0" y="2758.1" font-size="26" fill="#76b0c6" stroke="#76b0c6" stroke-width="0.73" >t044564</text>
<rect x="162.0" y="2839.6" width="562.0" height="4" fill="#1a1b23"/>
<text x="192.6" y="2820.1" font-size="26" fill="#76b0c6" stroke="#76b0c6" stroke-width="0.73" >7.22 TiB</text>
<text x="513.0" y="2820.1" font-size="26" fill="#76b0c6" stroke="#76b0c6" stroke-width="0.73" >t017422</text>
<rect x="162.0" y="2901.6" width="562.0" height="4" fill="#1a1b23"/>
<text x="192.6" y="2882.1" font-size="26" fill="#76b0c6" stroke="#76b0c6" stroke-width="0.73" >6.25 TiB</text>
<text x="513.0" y="2882.1" font-size="26" fill="#76b0c6" stroke="#76b0c6" stroke-width="0.73" >t01701</text>
<rect x="162.0" y="2963.6" width="562.0" height="4" fill="#1a1b23"/>
<text x="192.6" y="2944.1" font-size="26" fill="#76b0c6" stroke="#76b0c6" stroke-width="0.73" >5.81 TiB</text>
<text x="513.0" y="2944.1" font-size="26" fill="#76b0c6" stroke="#76b0c6" stroke-width="0.73" >t020522</text>
<rect x="764.3" y="1846.0" width="1831.0" height="616.0" fill="#21222c" rx="4" />
<text x="1678.8" y="1883.7" font-size="26" fill="#8e94e8" stroke="#8e94e8" stroke-width="0.73" text-anchor="middle" >Top Miner Power</text>
<g shape-rendering="crispEdges">
<rect x="924.0" y="1932.6" width="1202.5" height="4.1" fill="#8ca5ac" />
<rect x="924.0" y="1936.4" width="1202.5" height="3.8" fill="#553a3e" />
<rect x="924.0" y="1939.9" width="1202.5" height="1.7" fill="#ebcd82" />
<rect x="924.0" y="1941.3" width="1202.5" height="2.4" fill="#827896" />
<rect x="924.0" y="1943.4" width="1202.5" height="2.5" fill="#7d7dc3" />
<rect x="924.0" y="1945.6" width="1202.5" height="6.4" fill="#3e345c" />
<rect x="924.0" y="1951.7" width="1202.5" height="3.1" fill="#87583e" />
<rect x="924.0" y="1954.5" width="1202.5" height="13.2" fill="#603e28" />
<rect x="924.0" y="1967.4" width="1202.5" height="2.4" fill="#f0d7a5" />
<rect x="924.0" y="1969.5" width="1202.5" height="19.0" fill="#888476" />
<rect x="924.0" y="1988.2" width="1202.5" height="2.4" fill="#f5e6e1" />
<rect x="924.0" y="1990.3" width="1202.5" height="23.2" fill="#8a8080" />
<rect x="924.0" y="2013.2" width="1202.5" height="2.3" fill="#96aae1" />
<rect x="924.0" y="2015.2" width="1202.5" height="32.4" fill="#465678" />
<rect x="924.0" y="2047.3" width="1202.5" height="2.4" fill="#c89696" />
<rect x="924.0" y="2049.4" width="1202.5" height="53.7" fill="#7a5c5c" />
<rect x="924.0" y="2102.8" width="1202.5" height="2.5" fill="#e1e3e8" />
<rect x="924.0" y="2105.0" width="1202.5" height="100.3" fill="#828e98" />
<rect x="924.0" y="2205.0" width="1202.5" height="2.3" fill="#8a5a37" />
<rect x="924.0" y="2207.0" width="1202.5" height="198.0" fill="#4e3223" />
</g>
<rect x="924" y="1932.8" width="1202.5" height="2" fill="#fff" fill-opacity="0.12"/>
<rect x="2126.5" y="1932.8" width="10.0" height="2" fill="#fff" fill-opacity=".17"/>
<text x="913.7" y="1939.8" font-size="21.4" fill="#d8d9da" stroke="#d8d9da" stroke-width="0.60" text-anchor="end" >100.00%</text>
<rect x="924" y="2027.0" width="1202.5" height="2" fill="#fff" fill-opacity="0.12"/>
<rect x="2126.5" y="2027.0" width="10.0" height="2" fill="#fff" fill-opacity=".17"/>
<text x="913.7" y="2034.0" font-size="21.4" fill="#d8d9da" stroke="#d8d9da" stroke-width="0.60" text-anchor="end" >80.00%</text>
<rect x="924" y="2121.2" width="1202.5" height="2" fill="#fff" fill-opacity="0.12"/>
<rect x="2126.5" y="2121.2" width="10.0" height="2" fill="#fff" fill-opacity=".17"/>
<text x="913.7" y="2128.2" font-size="21.4" fill="#d8d9da" stroke="#d8d9da" stroke-width="0.60" text-anchor="end" >60.00%</text>
<rect x="924" y="2215.3" width="1202.5" height="2" fill="#fff" fill-opacity="0.12"/>
<rect x="2126.5" y="2215.3" width="10.0" height="2" fill="#fff" fill-opacity=".17"/>
<text x="913.7" y="2222.3" font-size="21.4" fill="#d8d9da" stroke="#d8d9da" stroke-width="0.60" text-anchor="end" >40.00%</text>
<rect x="924" y="2309.5" width="1202.5" height="2" fill="#fff" fill-opacity="0.12"/>
<rect x="2126.5" y="2309.5" width="10.0" height="2" fill="#fff" fill-opacity=".17"/>
<text x="913.7" y="2316.5" font-size="21.4" fill="#d8d9da" stroke="#d8d9da" stroke-width="0.60" text-anchor="end" >20.00%</text>
<rect x="924" y="2403.7" width="1202.5" height="2" fill="#fff" fill-opacity="0.12"/>
<rect x="2126.5" y="2403.7" width="10.0" height="2" fill="#fff" fill-opacity=".17"/>
<text x="913.7" y="2410.7" font-size="21.4" fill="#d8d9da" stroke="#d8d9da" stroke-width="0.60" text-anchor="end" >0%</text>
<rect x="1116.0" y="1933.8" width="2" height="470.9" fill="#fff" fill-opacity="0.14"/>
<text x="1117.0" y="2436.4" font-size="21.4" fill="#d8d9da" stroke="#d8d9da" stroke-width="0.60" text-anchor="middle" >23:50</text>
<rect x="1318.0" y="1933.8" width="2" height="470.9" fill="#fff" fill-opacity="0.14"/>
<text x="1319.0" y="2436.4" font-size="21.4" fill="#d8d9da" stroke="#d8d9da" stroke-width="0.60" text-anchor="middle" >23:55</text>
<rect x="1520.0" y="1933.8" width="2" height="470.9" fill="#fff" fill-opacity="0.14"/>
<text x="1521.0" y="2436.4" font-size="21.4" fill="#d8d9da" stroke="#d8d9da" stroke-width="0.60" text-anchor="middle" >00:00</text>
<rect x="1722.0" y="1933.8" width="2" height="470.9" fill="#fff" fill-opacity="0.14"/>
<text x="1723.0" y="2436.4" font-size="21.4" fill="#d8d9da" stroke="#d8d9da" stroke-width="0.60" text-anchor="middle" >00:05</text>
<rect x="1924.0" y="1933.8" width="2" height="470.9" fill="#fff" fill-opacity="0.14"/>
<text x="1925.0" y="2436.4" font-size="21.4" fill="#d8d9da" stroke="#d8d9da" stroke-width="0.60" text-anchor="middle" >00:10</text>
<rect x="2126.0" y="1933.8" width="2" height="470.9" fill="#fff" fill-opacity="0.14"/>
<text x="2127.0" y="2436.4" font-size="21.4" fill="#d8d9da" stroke="#d8d9da" stroke-width="0.60" text-anchor="middle" >00:15</text>
<rect x="922.0" y="2404.7" width="1214.5" height="2" fill="#4b4d57"/>
<text transform="translate(803.5,2181) rotate(-90)" font-size="24" fill="#d8d9da" stroke="#d8d9da" stroke-width=".6" text-anchor="middle">Power</text>
<text x="2534.0" y="1951.0" font-size="22" fill="#7eaee4" stroke="#7eaee4" stroke-width="0.62" text-anchor="end" font-weight="bold" >current</text>
<path d="M2536 1940.5 h13 l-6.5 7 z" fill="#7eaee4"/>
<rect x="2179.0" y="1962.0" width="384.0" height="484.0" fill="#222227" />
<rect x="2200.3" y="1986.0" width="24" height="7" rx="3" fill="#8c5028"/>
<text x="2239.0" y="1993.2" font-size="22" fill="#d8d9da" stroke="#d8d9da" stroke-width="0.62" >t018985</text>
<text x="2549.5" y="1993.2" font-size="22" fill="#76b0c6" stroke="#76b0c6" stroke-width="0.62" text-anchor="end" >2.025 PiB</text>
<rect x="2200.3" y="2034.0" width="24" height="7" rx="3" fill="#e3f6ff"/>
<text x="2239.0" y="2041.2" font-size="22" fill="#d8d9da" stroke="#d8d9da" stroke-width="0.62" >t019125</text>
<text x="2549.5" y="2041.2" font-size="22" fill="#76b0c6" stroke="#76b0c6" stroke-width="0.62" text-anchor="end" >1.055 PiB</text>
<rect x="2200.3" y="2082.0" width="24" height="7" rx="3" fill="#d7918a"/>
<text x="2239.0" y="2089.2" font-size="22" fill="#d8d9da" stroke="#d8d9da" stroke-width="0.62" >t01210</text>
<text x="2549.5" y="2089.2" font-size="22" fill="#76b0c6" stroke="#76b0c6" stroke-width="0.62" text-anchor="end" >578.625 TiB</text>
<rect x="2200.3" y="2130.0" width="24" height="7" rx="3" fill="#6e8cd2"/>
<text x="2239.0" y="2137.2" font-size="22" fill="#d8d9da" stroke="#d8d9da" stroke-width="0.62" >t017504</text>
<text x="2549.5" y="2137.2" font-size="22" fill="#76b0c6" stroke="#76b0c6" stroke-width="0.62" text-anchor="end" >360.031 TiB</text>
<rect x="2200.3" y="2178.0" width="24" height="7" rx="3" fill="#f0dcd8"/>
<text x="2239.0" y="2185.2" font-size="22" fill="#d8d9da" stroke="#d8d9da" stroke-width="0.62" >t017539</text>
<text x="2549.5" y="2185.2" font-size="22" fill="#76b0c6" stroke="#76b0c6" stroke-width="0.62" text-anchor="end" >257.156 TiB</text>
<rect x="2200.3" y="2226.0" width="24" height="7" rx="3" fill="#f8e6be"/>
<text x="2239.0" y="2233.2" font-size="22" fill="#d8d9da" stroke="#d8d9da" stroke-width="0.62" >t01031</text>
<text x="2549.5" y="2233.2" font-size="22" fill="#76b0c6" stroke="#76b0c6" stroke-width="0.62" text-anchor="end" >221.031 TiB</text>
<rect x="2200.3" y="2274.0" width="24" height="7" rx="3" fill="#b97337"/>
<text x="2239.0" y="2281.2" font-size="22" fill="#d8d9da" stroke="#d8d9da" stroke-width="0.62" >t031065</text>
<text x="2549.5" y="2281.2" font-size="22" fill="#76b0c6" stroke="#76b0c6" stroke-width="0.62" text-anchor="end" >158.063 TiB</text>
<rect x="2200.3" y="2322.0" width="24" height="7" rx="3" fill="#5f5096"/>
<text x="2239.0" y="2329.2" font-size="22" fill="#d8d9da" stroke="#d8d9da" stroke-width="0.62" >t021357</text>
<text x="2549.5" y="2329.2" font-size="22" fill="#76b0c6" stroke="#76b0c6" stroke-width="0.62" text-anchor="end" >77.656 TiB</text>
<rect x="2200.3" y="2370.0" width="24" height="7" rx="3" fill="#96b4dc"/>
<text x="2239.0" y="2377.2" font-size="22" fill="#d8d9da" stroke="#d8d9da" stroke-width="0.62" >t044570</text>
<text x="2549.5" y="2377.2" font-size="22" fill="#76b0c6" stroke="#76b0c6" stroke-width="0.62" text-anchor="end" >23.938 TiB</text>
<rect x="2200.3" y="2418.0" width="24" height="7" rx="3" fill="#823c78"/>
<text x="2239.0" y="2425.2" font-size="22" fill="#d8d9da" stroke="#d8d9da" stroke-width="0.62" >t019204</text>
<text x="2549.5" y="2425.2" font-size="22" fill="#76b0c6" stroke="#76b0c6" stroke-width="0.62" text-anchor="end" >13.000 TiB</text>
<rect x="2567.5" y="1934.5" width="12.0" height="149.0" fill="#3d3e49" rx="6" />
<rect x="764.3" y="2486.0" width="1831.0" height="700.0" fill="#21222c" rx="4" />
<text x="1678.8" y="2523.7" font-size="26" fill="#8e94e8" stroke="#8e94e8" stroke-width="0.73" text-anchor="middle" >Pledge Collateral</text>
<rect x="922.0" y="2573.8" width="1624.0" height="2" fill="#fff" fill-opacity=".17"/>
<text x="912.8" y="2579.8" font-size="21.4" fill="#d8d9da" stroke="#d8d9da" stroke-width="0.60" text-anchor="end" >1.03150</text>
<rect x="922.0" y="2638.8" width="1624.0" height="2" fill="#fff" fill-opacity=".17"/>
<text x="912.8" y="2644.8" font-size="21.4" fill="#d8d9da" stroke="#d8d9da" stroke-width="0.60" text-anchor="end" >1.03145</text>
<rect x="922.0" y="2703.8" width="1624.0" height="2" fill="#fff" fill-opacity=".17"/>
<text x="912.8" y="2709.8" font-size="21.4" fill="#d8d9da" stroke="#d8d9da" stroke-width="0.60" text-anchor="end" >1.03140</text>
<rect x="922.0" y="2768.8" width="1624.0" height="2" fill="#fff" fill-opacity=".17"/>
<text x="912.8" y="2774.8" font-size="21.4" fill="#d8d9da" stroke="#d8d9da" stroke-width="0.60" text-anchor="end" >1.03135</text>
<rect x="922.0" y="2833.8" width="1624.0" height="2" fill="#fff" fill-opacity=".17"/>
<text x="912.8" y="2839.8" font-size="21.4" fill="#d8d9da" stroke="#d8d9da" stroke-width="0.60" text-anchor="end" >1.03130</text>
<rect x="966.0" y="2574.8" width="2" height="262.0" fill="#fff" fill-opacity=".17"/>
<text x="967.0" y="2866.0" font-size="21.4" fill="#d8d9da" stroke="#d8d9da" stroke-width="0.60" text-anchor="middle" >23:46</text>
<rect x="1074.2" y="2574.8" width="2" height="262.0" fill="#fff" fill-opacity=".17"/>
<text x="1075.2" y="2866.0" font-size="21.4" fill="#d8d9da" stroke="#d8d9da" stroke-width="0.60" text-anchor="middle" >23:48</text>
<rect x="1182.3" y="2574.8" width="2" height="262.0" fill="#fff" fill-opacity=".17"/>
<text x="1183.3" y="2866.0" font-size="21.4" fill="#d8d9da" stroke="#d8d9da" stroke-width="0.60" text-anchor="middle" >23:50</text>
<rect x="1290.5" y="2574.8" width="2" height="262.0" fill="#fff" fill-opacity=".17"/>
<text x="1291.5" y="2866.0" font-size="21.4" fill="#d8d9da" stroke="#d8d9da" stroke-width="0.60" text-anchor="middle" >23:52</text>
<rect x="1398.6" y="2574.8" width="2" height="262.0" fill="#fff" fill-opacity=".17"/>
<text x="1399.6" y="2866.0" font-size="21.4" fill="#d8d9da" stroke="#d8d9da" stroke-width="0.60" text-anchor="middle" >23:54</text>
<rect x="1506.8" y="2574.8" width="2" height="262.0" fill="#fff" fill-opacity=".17"/>
<text x="1507.8" y="2866.0" font-size="21.4" fill="#d8d9da" stroke="#d8d9da" stroke-width="0.60" text-anchor="middle" >23:56</text>
<rect x="1614.9" y="2574.8" width="2" height="262.0" fill="#fff" fill-opacity=".17"/>
<text x="1615.9" y="2866.0" font-size="21.4" fill="#d8d9da" stroke="#d8d9da" stroke-width="0.60" text-anchor="middle" >23:58</text>
<rect x="1723.1" y="2574.8" width="2" height="262.0" fill="#fff" fill-opacity=".17"/>
<text x="1724.1" y="2866.0" font-size="21.4" fill="#d8d9da" stroke="#d8d9da" stroke-width="0.60" text-anchor="middle" >00:00</text>
<rect x="1831.2" y="2574.8" width="2" height="262.0" fill="#fff" fill-opacity=".17"/>
<text x="1832.2" y="2866.0" font-size="21.4" fill="#d8d9da" stroke="#d8d9da" stroke-width="0.60" text-anchor="middle" >00:02</text>
<rect x="1939.3" y="2574.8" width="2" height="262.0" fill="#fff" fill-opacity=".17"/>
<text x="1940.3" y="2866.0" font-size="21.4" fill="#d8d9da" stroke="#d8d9da" stroke-width="0.60" text-anchor="middle" >00:04</text>
<rect x="2047.5" y="2574.8" width="2" height="262.0" fill="#fff" fill-opacity=".17"/>
<text x="2048.5" y="2866.0" font-size="21.4" fill="#d8d9da" stroke="#d8d9da" stroke-width="0.60" text-anchor="middle" >00:06</text>
<rect x="2155.7" y="2574.8" width="2" height="262.0" fill="#fff" fill-opacity=".17"/>
<text x="2156.7" y="2866.0" font-size="21.4" fill="#d8d9da" stroke="#d8d9da" stroke-width="0.60" text-anchor="middle" >00:08</text>
<rect x="2263.8" y="2574.8" width="2" height="262.0" fill="#fff" fill-opacity=".17"/>
<text x="2264.8" y="2866.0" font-size="21.4" fill="#d8d9da" stroke="#d8d9da" stroke-width="0.60" text-anchor="middle" >00:10</text>
<rect x="2371.9" y="2574.8" width="2" height="262.0" fill="#fff" fill-opacity=".17"/>
<text x="2372.9" y="2866.0" font-size="21.4" fill="#d8d9da" stroke="#d8d9da" stroke-width="0.60" text-anchor="middle" >00:12</text>
<rect x="2480.1" y="2574.8" width="2" height="262.0" fill="#fff" fill-opacity=".17"/>
<text x="2481.1" y="2866.0" font-size="21.4" fill="#d8d9da" stroke="#d8d9da" stroke-width="0.60" text-anchor="middle" >00:14</text>
<path d="M953.3 2824.3 L1033.8 2812.5 L1115.2 2794.4 L1155.7 2779.5 L1196.6 2770.2 L1317.6 2761.9 L1358.6 2755.7 L1480.4 2746.9 L1561.8 2729.3 L1643.3 2723.1 L1682.9 2711.3 L1722.9 2708.6 L1765.6 2699.2 L1805.6 2693.0 L1845.6 2690.3 L1885.7 2681.4 L1925.7 2676.1 L1965.7 2666.8 L2007.9 2661.0 L2049.3 2648.5 L2088.0 2639.6 L2128.0 2630.7 L2168.0 2625.0 L2210.2 2618.7 L2250.3 2613.0 L2290.3 2610.3 L2332.5 2604.5 L2373.0 2595.6 L2534.8 2595.6 L2534.8 2834.8 L953.3 2834.8 Z" fill="#5270be" fill-opacity="0.115"/>
<path d="M953.3 2824.3 L1033.8 2812.5 L1115.2 2794.4 L1155.7 2779.5 L1196.6 2770.2 L1317.6 2761.9 L1358.6 2755.7 L1480.4 2746.9 L1561.8 2729.3 L1643.3 2723.1 L1682.9 2711.3 L1722.9 2708.6 L1765.6 2699.2 L1805.6 2693.0 L1845.6 2690.3 L1885.7 2681.4 L1925.7 2676.1 L1965.7 2666.8 L2007.9 2661.0 L2049.3 2648.5 L2088.0 2639.6 L2128.0 2630.7 L2168.0 2625.0 L2210.2 2618.7 L2250.3 2613.0 L2290.3 2610.3 L2332.5 2604.5 L2373.0 2595.6 L2534.8 2595.6" fill="none" stroke="#5270be" stroke-width="2" stroke-linejoin="round"/>
<rect x="922.0" y="2834.3" width="1624.0" height="2" fill="#4b4d57"/>
<text transform="translate(803,2717) rotate(-90)" font-size="24" fill="#d8d9da" stroke="#d8d9da" stroke-width=".6" text-anchor="middle">FIL</text>
<rect x="799.7" y="2906.0" width="23.4" height="6.0" fill="#4f6db8" rx="1" />
<text x="832.0" y="2916.0" font-size="22" fill="#d8d9da" stroke="#d8d9da" stroke-width="0.62" >chain.pledge_collateral.mean</text>
<rect x="2619.3" y="1846.0" width="1212.6" height="1200.0" fill="#21222c" rx="4" />
<text x="3224.6" y="1883.7" font-size="26" fill="#8e94e8" stroke="#8e94e8" stroke-width="0.73" text-anchor="middle" >Chain Table</text>
<rect x="2636.0" y="1918.5" width="1180.0" height="51.0" fill="#1b1c25" />
<text x="2666.0" y="1954.2" font-size="26" fill="#7eaee4" stroke="#7eaee4" stroke-width="0.73" >Height</text>
<text x="2791.0" y="1954.2" font-size="26" fill="#7eaee4" stroke="#7eaee4" stroke-width="0.73" >Tipset</text>
<rect x="2760.0" y="1976.0" width="4" height="1024.0" fill="#1a1b23"/>
<text x="2793.0" y="2013.2" font-size="26" fill="#76b0c6" stroke="#76b0c6" stroke-width="0.73" >bafy2bzaced42lxmuizbwcsqcwlqnu6g6h7k6y43aycmj2gkzxkaeqdv62r6qq</text>
<text x="2793.0" y="2051.2" font-size="26" fill="#76b0c6" stroke="#76b0c6" stroke-width="0.73" >bafy2bzaced4cv7lfc5x3ngjvvepuuxkldco3nrem72qs7nqt6gjw5lvegjnna</text>
<text x="2667.0" y="2031.4" font-size="26" fill="#76b0c6" stroke="#76b0c6" stroke-width="0.73" >180976</text>
<rect x="2636.0" y="2070.7" width="1164.0" height="4" fill="#1a1b23"/>
<text x="2793.0" y="2113.4" font-size="26" fill="#76b0c6" stroke="#76b0c6" stroke-width="0.73" >bafy2bzaceds2osrg552lmljfdvjfh2hfvn4wr6pruewg4a72f7mdci2r7w26c</text>
<text x="2793.0" y="2151.4" font-size="26" fill="#76b0c6" stroke="#76b0c6" stroke-width="0.73" >bafy2bzaceayofpzcxbov4ahsg73svmzszof4hvjgdgwe7euf4kvztmqxr7eog</text>
<text x="2793.0" y="2189.4" font-size="26" fill="#76b0c6" stroke="#76b0c6" stroke-width="0.73" >bafy2bzacealdmxhw4oea4brd7eqlzxczo3owdvjpl6g5a4tg4e74hmlxpcgr6</text>
<text x="2667.0" y="2150.6" font-size="26" fill="#76b0c6" stroke="#76b0c6" stroke-width="0.73" >180975</text>
<rect x="2636.0" y="2208.9" width="1164.0" height="4" fill="#1a1b23"/>
<text x="2793.0" y="2251.6" font-size="26" fill="#76b0c6" stroke="#76b0c6" stroke-width="0.73" >bafy2bzacedcnpmtladlimc7wz56ghmfsxazcqrkhqewbcuscqh5exvli2p4vo</text>
<text x="2793.0" y="2289.6" font-size="26" fill="#76b0c6" stroke="#76b0c6" stroke-width="0.73" >bafy2bzacedyohxxdl4l4k3h7lwucqpw63z7o6sg7ghbirh3kxu3hobpszqqno</text>
<text x="2667.0" y="2269.8" font-size="26" fill="#76b0c6" stroke="#76b0c6" stroke-width="0.73" >180974</text>
<rect x="2636.0" y="2309.1" width="1164.0" height="4" fill="#1a1b23"/>
<text x="2793.0" y="2351.8" font-size="26" fill="#76b0c6" stroke="#76b0c6" stroke-width="0.73" >bafy2bzacedcr5gijhuxujkcnk3hee3e34kvbpug2jh3gdhmjlfmc43gmvn3rg</text>
<text x="2667.0" y="2351.0" font-size="26" fill="#76b0c6" stroke="#76b0c6" stroke-width="0.73" >180973</text>
<rect x="2636.0" y="2371.3" width="1164.0" height="4" fill="#1a1b23"/>
<text x="2793.0" y="2414.0" font-size="26" fill="#76b0c6" stroke="#76b0c6" stroke-width="0.73" >bafy2bzaceaecol56wtq67tzi5pzgemiw7efcvey2be5i2xtpijenljtjcf5f6</text>
<text x="2793.0" y="2452.0" font-size="26" fill="#76b0c6" stroke="#76b0c6" stroke-width="0.73" >bafy2bzacea42rmiw5rrtdh6cn3247ln5ksqzpreulzuhaorupepnxifltvh4w</text>
<text x="2667.0" y="2432.2" font-size="26" fill="#76b0c6" stroke="#76b0c6" stroke-width="0.73" >180972</text>
<rect x="2636.0" y="2471.5" width="1164.0" height="4" fill="#1a1b23"/>
<text x="2793.0" y="2514.2" font-size="26" fill="#76b0c6" stroke="#76b0c6" stroke-width="0.73" >bafy2bzacecj7aujlzvccz72zucoayl2576bbxaxtqocru3szwjbyhm6blx25o</text>
<text x="2793.0" y="2552.2" font-size="26" fill="#76b0c6" stroke="#76b0c6" stroke-width="0.73" >bafy2bzacebhpeerkxob6sbwgxakzjy4wts5n47wxcnradf3urzqg47hfdp43c</text>
<text x="2667.0" y="2532.4" font-size="26" fill="#76b0c6" stroke="#76b0c6" stroke-width="0.73" >180971</text>
<rect x="2636.0" y="2571.7" width="1164.0" height="4" fill="#1a1b23"/>
<text x="2793.0" y="2614.4" font-size="26" fill="#76b0c6" stroke="#76b0c6" stroke-width="0.73" >bafy2bzacedpxqy3hlzndh6npmoq37i5tqudhvtwmwd76erh7qzuwztpdiyhle</text>
<text x="2793.0" y="2652.4" font-size="26" fill="#76b0c6" stroke="#76b0c6" stroke-width="0.73" >bafy2bzacebigm7nnnbl7sat74ofk6zgd3so227abe4dr7br37mgunwu2qstrm</text>
<text x="2667.0" y="2632.6" font-size="26" fill="#76b0c6" stroke="#76b0c6" stroke-width="0.73" >180970</text>
<rect x="2636.0" y="2671.9" width="1164.0" height="4" fill="#1a1b23"/>
<text x="2793.0" y="2714.6" font-size="26" fill="#76b0c6" stroke="#76b0c6" stroke-width="0.73" >bafy2bzacedema36ofwqlnf4bjlpspskckbvxwo57cw2to3cx62dc7o2u7sudu</text>
<text x="2793.0" y="2752.6" font-size="26" fill="#76b0c6" stroke="#76b0c6" stroke-width="0.73" >bafy2bzacedbtybw327yqiwzcxlxja2ucjxtmkmvfrektfdrumv5sqxdlfkhle</text>
<text x="2793.0" y="2790.6" font-size="26" fill="#76b0c6" stroke="#76b0c6" stroke-width="0.73" >bafy2bzacebjqb5doya3i64fezjtpce6b4nn5f46tagrkllodxbzdgpdzskaeg</text>
<text x="2667.0" y="2751.8" font-size="26" fill="#76b0c6" stroke="#76b0c6" stroke-width="0.73" >180969</text>
<rect x="2636.0" y="2810.1" width="1164.0" height="4" fill="#1a1b23"/>
<text x="2793.0" y="2852.8" font-size="26" fill="#76b0c6" stroke="#76b0c6" stroke-width="0.73" >bafy2bzacebnkxxd5ddlb2hiv2acznm6hvdeamzbcqob5qhgzdbilkqwhp73mu</text>
<text x="2793.0" y="2890.8" font-size="26" fill="#76b0c6" stroke="#76b0c6" stroke-width="0.73" >bafy2bzaceau562zeozw2suoeeovcicpx6gmpm3itte7zr7wgirw6aygjjvxwy</text>
<text x="2793.0" y="2928.8" font-size="26" fill="#76b0c6" stroke="#76b0c6" stroke-width="0.73" >bafy2bzaceda4lw3dkhflwe3zbvyph42cxbzd54vprdllo7itl3qd6uammalo3s2</text>
<text x="2667.0" y="2890.0" font-size="26" fill="#76b0c6" stroke="#76b0c6" stroke-width="0.73" >180968</text>
<rect x="2636.0" y="2948.3" width="1164.0" height="4" fill="#1a1b23"/>
<rect x="3800.0" y="1976.0" width="16.0" height="580.0" fill="#000" />
<rect x="3802.0" y="1978.0" width="12.0" height="576.0" fill="#3e3e4e" />
</g>
<g stroke="#a3acf0" stroke-width="2" fill="none" stroke-linejoin="round"><path d="M1635.5 2949.5 h13 l7.5 7.5 v16 h-20.5 z M1648.5 2949.5 v7.5 h7.5"/><path d="M1642.3 2961.5 l-3 3.2 l3 3.2 M1649.7 2961.5 l3 3.2 l-3 3.2 M1647.6 2959.8 l-3.2 10"/></g>
<text x="1665.6" y="2969.6" font-size="26" fill="#a3acf0" stroke="#a3acf0" stroke-width="0.73" >Docs</text>
<text x="1783.0" y="2969.6" font-size="26" fill="#a3acf0" stroke="#a3acf0" stroke-width="0.73" text-anchor="middle" >|</text>
<g fill="none"><circle cx="1840" cy="2960.3" r="9" stroke-width="7.2" stroke="#a3acf0"/><path d="M1830.5 2950.8 l6 6 M1849.5 2950.8 l-6 6 M1830.5 2969.8 l6 -6 M1849.5 2969.8 l-6 -6" stroke="#121317" stroke-width="1.5"/><circle cx="1840" cy="2960.3" r="12.2" stroke-width="1.4" stroke="#a3acf0"/><circle cx="1840" cy="2960.3" r="5.6" stroke-width="1.2" stroke="#a3acf0"/></g>
<text x="1861.0" y="2969.6" font-size="26" fill="#a3acf0" stroke="#a3acf0" stroke-width="0.73" >Discuss Forum</text>
<text x="2121.0" y="2969.6" font-size="26" fill="#a3acf0" stroke="#a3acf0" stroke-width="0.73" text-anchor="middle" >|</text>
<g fill="none" stroke="#a3acf0" stroke-width="2.7"><path d="M2175 2951 c-6.5 0 -10.5 3.3 -10.5 7 c0 2.3 1.5 4.3 3.8 5.6 c-0.2 1.6 -1 3 -2.3 4 c2.6 -0.1 4.7 -1 6.2 -2.3 c0.9 0.1 1.8 0.2 2.8 0.2 c6.5 0 10.5 -3.3 10.5 -7 s-4 -7.5 -10.5 -7.5 z"/><path d="M2188 2959 c2 1.2 3.3 3 3.3 5 c0 2 -1.2 3.8 -3.2 5 c0.2 1.4 1 2.6 2.2 3.6 c-2.4 -0.1 -4.4 -0.9 -5.8 -2.1 c-3.6 0.6 -7 -0.5 -9 -2.4"/></g>
<text x="2199.0" y="2969.6" font-size="26" fill="#a3acf0" stroke="#a3acf0" stroke-width="0.73" >Community</text>
<path d="M3854 233 H3866 V2012 A6 6 0 0 1 3854 2012 Z" fill="#3a3b4b"/>
<rect x="3866.0" y="332.0" width="16.0" height="2700.0" fill="#000" />
<rect x="3868.0" y="334.0" width="12.0" height="2700.0" fill="#3e3e4a" />
<rect x="112.0" y="76.0" width="3770.0" height="90.0" fill="#1f1e22" />
<rect x="112.0" y="160.0" width="3770.0" height="73.0" fill="#2f2e34" />
<rect x="112.0" y="232.0" width="3770.0" height="2" fill="#38373d"/>
<path d="M248 160 A20 20 0 0 0 268 140 V108 A16 16 0 0 1 284 92 H732 A16 16 0 0 1 748 108 V140 A20 20 0 0 0 768 160 Z" fill="#2f2e34"/>
<circle cx="150" cy="119" r="12" fill="#de6252"/>
<circle cx="190" cy="119" r="12" fill="#ecbd40"/>
<circle cx="230" cy="119" r="12" fill="#62c34a"/>
<circle cx="308" cy="126" r="16" fill="#75c5d3"/>
<g stroke="#e9fbff" stroke-width="1.6" fill="none" stroke-linecap="round"><path d="M314.5 116.5 C311 114.5 309.5 117 309 120 L306.5 132 C306 135 304.5 137.5 301.5 135.5"/><path d="M303.5 123 L313.5 124.5"/><path d="M302.5 127.5 L312.5 129"/></g>
<text x="341" y="133.7" font-size="24" fill="#ececee" stroke="#ececee" stroke-width=".5" class="s" textLength="168" lengthAdjust="spacing">Chain - Grafana</text>
<path d="M708 118.5 L723 133.5 M723 118.5 L708 133.5" stroke="#eeeeef" stroke-width="3" fill="none"/>
<path d="M780.5 126 H803.5 M792 114.5 V137.5" stroke="#dedee0" stroke-width="3.2" fill="none"/>
<g stroke="#e6e6e8" stroke-width="3" fill="none"><path d="M169 195.5 H145 M156 183.5 L144 195.5 L156 207.5"/></g>
<g stroke="#78787d" stroke-width="3" fill="none"><path d="M207 195.5 H231 M220 183.5 L232 195.5 L220 207.5"/></g>
<g stroke="#e6e6e8" stroke-width="3" fill="none"><path d="M294.5 189 A11.5 11.5 0 1 0 296 200"/></g><path d="M298 182 V193 H287 Z" fill="#e6e6e8"/>
<rect x="328.0" y="168.0" width="3264.0" height="56.0" fill="#1f1e22" rx="28" />
<rect x="356" y="194" width="16" height="13" rx="2" fill="#e8e8ea"/><path d="M359.7 195 V191.5 A4.3 4.3 0 0 1 368.3 191.5 V195" stroke="#e8e8ea" stroke-width="2.4" fill="none"/>
<text x="397" y="206" font-size="28" class="s" textLength="1217" lengthAdjust="spacing"><tspan fill="#ffffff" stroke="#fff" stroke-width=".5">stats.testnet.filecoin.io</tspan><tspan fill="#8a8a90" stroke="#8a8a90" stroke-width=".4">/d/z6FtI92Zz/chain?orgId=1&amp;refresh=45s&amp;from=now-30m&amp;to=now&amp;kiosk</tspan></text>
<path d="M3556 182.5 L3560.1 191.6 L3570 192.6 L3562.6 199.3 L3564.7 209 L3556 204 L3547.3 209 L3549.4 199.3 L3542 192.6 L3551.9 191.6 Z" stroke="#b9b9bd" stroke-width="2.6" fill="none" stroke-linejoin="miter"/>
<rect x="3610.5" y="169" width="190" height="54" rx="27" fill="#1f1e23" stroke="#3d3c42" stroke-width="1.5"/>
<circle cx="3636" cy="196" r="22" fill="#ededef"/>
<g fill="#2a292e"><path d="M3626.5 190 L3629.5 183 Q3630 182 3631.2 182.5 L3633.5 183.5 Q3636 184.3 3638.5 183.5 L3640.8 182.5 Q3642 182 3642.5 183 L3645.5 190 Z"/><rect x="3622" y="191.5" width="28" height="2"/></g>
<g stroke="#2a292e" stroke-width="1.8" fill="none"><circle cx="3629.5" cy="202" r="4.2"/><circle cx="3642.5" cy="202" r="4.2"/><path d="M3633.7 201.5 Q3636 200 3638.3 201.5"/></g>
<text x="3675" y="205.5" font-size="26" fill="#f1f1f3" stroke="#f1f1f3" stroke-width=".5" class="s">Incognito</text>
<circle cx="3838" cy="186.6" r="3.1" fill="#e6e6e8"/>
<circle cx="3838" cy="196" r="3.1" fill="#e6e6e8"/>
<circle cx="3838" cy="205.6" r="3.1" fill="#e6e6e8"/>
</g></svg></body></html>
